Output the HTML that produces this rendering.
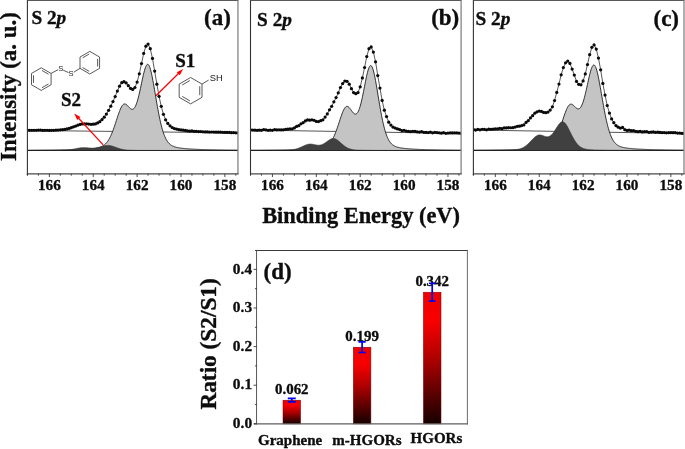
<!DOCTYPE html>
<html lang="en"><head><meta charset="utf-8"><title>S 2p XPS spectra</title>
<style>html,body{margin:0;padding:0;background:#fff}body{width:685px;height:449px;overflow:hidden}svg{display:block}text{font-family:'Liberation Serif', serif;fill:#0d0d0d;stroke:#0d0d0d;stroke-width:0.35px;stroke-linejoin:round}</style>
</head><body>
<svg width="685" height="449" viewBox="0 0 685 449">
<rect width="685" height="449" fill="#fff"/>
<g>
<clipPath id="ca"><rect x="27.41" y="0.4" width="210.55" height="173.5"/></clipPath>
<g clip-path="url(#ca)">
<line x1="27.41" y1="130.4" x2="237.96" y2="132.9" stroke="#2a2a2a" stroke-width="0.8"/>
<polygon points="27.41,150.5 27.41,150.21 27.91,150.21 28.41,150.21 28.91,150.2 29.41,150.2 29.91,150.2 30.41,150.19 30.91,150.19 31.41,150.19 31.91,150.19 32.41,150.18 32.91,150.18 33.41,150.18 33.91,150.17 34.41,150.17 34.91,150.17 35.41,150.16 35.91,150.16 36.41,150.16 36.91,150.15 37.41,150.15 37.91,150.15 38.41,150.14 38.91,150.14 39.41,150.13 39.91,150.13 40.41,150.13 40.91,150.12 41.41,150.12 41.91,150.12 42.41,150.11 42.91,150.11 43.41,150.1 43.91,150.1 44.41,150.09 44.91,150.09 45.41,150.09 45.91,150.08 46.41,150.08 46.91,150.07 47.41,150.07 47.91,150.06 48.41,150.06 48.91,150.05 49.41,150.05 49.91,150.04 50.41,150.04 50.91,150.03 51.41,150.02 51.91,150.02 52.41,150.01 52.91,150.01 53.41,150 53.91,149.99 54.41,149.99 54.91,149.98 55.41,149.98 55.91,149.97 56.41,149.96 56.91,149.96 57.41,149.95 57.91,149.94 58.41,149.93 58.91,149.93 59.41,149.92 59.91,149.91 60.41,149.9 60.91,149.9 61.41,149.89 61.91,149.88 62.41,149.87 62.91,149.86 63.41,149.85 63.91,149.84 64.41,149.83 64.91,149.83 65.41,149.82 65.91,149.81 66.41,149.8 66.91,149.79 67.41,149.77 67.91,149.76 68.41,149.75 68.91,149.74 69.41,149.73 69.91,149.72 70.41,149.71 70.91,149.69 71.41,149.68 71.91,149.67 72.41,149.65 72.91,149.64 73.41,149.63 73.91,149.61 74.41,149.6 74.91,149.58 75.41,149.57 75.91,149.55 76.41,149.53 76.91,149.52 77.41,149.5 77.91,149.48 78.41,149.46 78.91,149.45 79.41,149.43 79.91,149.41 80.41,149.39 80.91,149.36 81.41,149.34 81.91,149.32 82.41,149.3 82.91,149.27 83.41,149.25 83.91,149.22 84.41,149.2 84.91,149.17 85.41,149.14 85.91,149.12 86.41,149.09 86.91,149.06 87.41,149.02 87.91,148.99 88.41,148.96 88.91,148.92 89.41,148.88 89.91,148.85 90.41,148.81 90.91,148.76 91.41,148.72 91.91,148.67 92.41,148.62 92.91,148.57 93.41,148.52 93.91,148.46 94.41,148.4 94.91,148.33 95.41,148.26 95.91,148.18 96.41,148.1 96.91,148.01 97.41,147.91 97.91,147.8 98.41,147.69 98.91,147.56 99.41,147.41 99.91,147.26 100.41,147.09 100.91,146.9 101.41,146.69 101.91,146.45 102.41,146.2 102.91,145.91 103.41,145.6 103.91,145.25 104.41,144.87 104.91,144.45 105.41,143.99 105.91,143.49 106.41,142.94 106.91,142.34 107.41,141.68 107.91,140.98 108.41,140.21 108.91,139.39 109.41,138.51 109.91,137.56 110.41,136.56 110.91,135.49 111.41,134.36 111.91,133.18 112.41,131.93 112.91,130.63 113.41,129.28 113.91,127.88 114.41,126.44 114.91,124.96 115.41,123.46 115.91,121.93 116.41,120.4 116.91,118.86 117.41,117.33 117.91,115.83 118.41,114.36 118.91,112.93 119.41,111.56 119.91,110.27 120.41,109.07 120.91,107.97 121.41,106.98 121.91,106.12 122.41,105.4 122.91,104.81 123.41,104.38 123.91,104.09 124.41,103.95 124.91,103.94 125.41,104.06 125.91,104.3 126.41,104.63 126.91,105.05 127.41,105.53 127.91,106.05 128.41,106.59 128.91,107.14 129.41,107.66 129.91,108.14 130.41,108.56 130.91,108.91 131.41,109.16 131.91,109.3 132.41,109.32 132.91,109.2 133.41,108.93 133.91,108.51 134.41,107.93 134.91,107.17 135.41,106.25 135.91,105.15 136.41,103.88 136.91,102.45 137.41,100.85 137.91,99.11 138.41,97.22 138.91,95.2 139.41,93.08 139.91,90.86 140.41,88.56 140.91,86.22 141.41,83.85 141.91,81.48 142.41,79.14 142.91,76.87 143.41,74.68 143.91,72.62 144.41,70.72 144.91,69.01 145.41,67.52 145.91,66.29 146.41,65.33 146.91,64.68 147.41,64.35 147.91,64.35 148.41,64.69 148.91,65.36 149.41,66.35 149.91,67.65 150.41,69.24 150.91,71.1 151.41,73.19 151.91,75.49 152.41,77.97 152.91,80.61 153.41,83.36 153.91,86.2 154.41,89.11 154.91,92.06 155.41,95.03 155.91,97.99 156.41,100.92 156.91,103.82 157.41,106.65 157.91,109.41 158.41,112.09 158.91,114.67 159.41,117.15 159.91,119.52 160.41,121.77 160.91,123.91 161.41,125.92 161.91,127.82 162.41,129.59 162.91,131.25 163.41,132.79 163.91,134.21 164.41,135.52 164.91,136.73 165.41,137.84 165.91,138.85 166.41,139.78 166.91,140.62 167.41,141.38 167.91,142.07 168.41,142.7 168.91,143.26 169.41,143.77 169.91,144.23 170.41,144.64 170.91,145.01 171.41,145.34 171.91,145.64 172.41,145.91 172.91,146.15 173.41,146.37 173.91,146.57 174.41,146.75 174.91,146.92 175.41,147.07 175.91,147.2 176.41,147.33 176.91,147.44 177.41,147.55 177.91,147.65 178.41,147.74 178.91,147.83 179.41,147.91 179.91,147.99 180.41,148.06 180.91,148.13 181.41,148.19 181.91,148.25 182.41,148.31 182.91,148.37 183.41,148.42 183.91,148.47 184.41,148.52 184.91,148.57 185.41,148.61 185.91,148.66 186.41,148.7 186.91,148.74 187.41,148.78 187.91,148.82 188.41,148.86 188.91,148.89 189.41,148.93 189.91,148.96 190.41,148.99 190.91,149.02 191.41,149.05 191.91,149.08 192.41,149.11 192.91,149.14 193.41,149.17 193.91,149.19 194.41,149.22 194.91,149.24 195.41,149.26 195.91,149.29 196.41,149.31 196.91,149.33 197.41,149.35 197.91,149.37 198.41,149.39 198.91,149.41 199.41,149.43 199.91,149.45 200.41,149.47 200.91,149.49 201.41,149.5 201.91,149.52 202.41,149.54 202.91,149.55 203.41,149.57 203.91,149.58 204.41,149.6 204.91,149.61 205.41,149.63 205.91,149.64 206.41,149.65 206.91,149.67 207.41,149.68 207.91,149.69 208.41,149.7 208.91,149.72 209.41,149.73 209.91,149.74 210.41,149.75 210.91,149.76 211.41,149.77 211.91,149.78 212.41,149.79 212.91,149.8 213.41,149.81 213.91,149.82 214.41,149.83 214.91,149.84 215.41,149.85 215.91,149.86 216.41,149.87 216.91,149.88 217.41,149.88 217.91,149.89 218.41,149.9 218.91,149.91 219.41,149.92 219.91,149.92 220.41,149.93 220.91,149.94 221.41,149.95 221.91,149.95 222.41,149.96 222.91,149.97 223.41,149.97 223.91,149.98 224.41,149.99 224.91,149.99 225.41,150 225.91,150 226.41,150.01 226.91,150.01 227.41,150.02 227.91,150.03 228.41,150.03 228.91,150.04 229.41,150.04 229.91,150.05 230.41,150.05 230.91,150.06 231.41,150.06 231.91,150.07 232.41,150.07 232.91,150.08 233.41,150.08 233.91,150.09 234.41,150.09 234.91,150.1 235.41,150.1 235.91,150.1 236.41,150.11 236.91,150.11 237.41,150.12 237.91,150.12 238.41,150.12 238.41,150.5" fill="#c4c4c4" stroke="none"/>
<polyline points="27.41,150.21 27.91,150.21 28.41,150.21 28.91,150.2 29.41,150.2 29.91,150.2 30.41,150.19 30.91,150.19 31.41,150.19 31.91,150.19 32.41,150.18 32.91,150.18 33.41,150.18 33.91,150.17 34.41,150.17 34.91,150.17 35.41,150.16 35.91,150.16 36.41,150.16 36.91,150.15 37.41,150.15 37.91,150.15 38.41,150.14 38.91,150.14 39.41,150.13 39.91,150.13 40.41,150.13 40.91,150.12 41.41,150.12 41.91,150.12 42.41,150.11 42.91,150.11 43.41,150.1 43.91,150.1 44.41,150.09 44.91,150.09 45.41,150.09 45.91,150.08 46.41,150.08 46.91,150.07 47.41,150.07 47.91,150.06 48.41,150.06 48.91,150.05 49.41,150.05 49.91,150.04 50.41,150.04 50.91,150.03 51.41,150.02 51.91,150.02 52.41,150.01 52.91,150.01 53.41,150 53.91,149.99 54.41,149.99 54.91,149.98 55.41,149.98 55.91,149.97 56.41,149.96 56.91,149.96 57.41,149.95 57.91,149.94 58.41,149.93 58.91,149.93 59.41,149.92 59.91,149.91 60.41,149.9 60.91,149.9 61.41,149.89 61.91,149.88 62.41,149.87 62.91,149.86 63.41,149.85 63.91,149.84 64.41,149.83 64.91,149.83 65.41,149.82 65.91,149.81 66.41,149.8 66.91,149.79 67.41,149.77 67.91,149.76 68.41,149.75 68.91,149.74 69.41,149.73 69.91,149.72 70.41,149.71 70.91,149.69 71.41,149.68 71.91,149.67 72.41,149.65 72.91,149.64 73.41,149.63 73.91,149.61 74.41,149.6 74.91,149.58 75.41,149.57 75.91,149.55 76.41,149.53 76.91,149.52 77.41,149.5 77.91,149.48 78.41,149.46 78.91,149.45 79.41,149.43 79.91,149.41 80.41,149.39 80.91,149.36 81.41,149.34 81.91,149.32 82.41,149.3 82.91,149.27 83.41,149.25 83.91,149.22 84.41,149.2 84.91,149.17 85.41,149.14 85.91,149.12 86.41,149.09 86.91,149.06 87.41,149.02 87.91,148.99 88.41,148.96 88.91,148.92 89.41,148.88 89.91,148.85 90.41,148.81 90.91,148.76 91.41,148.72 91.91,148.67 92.41,148.62 92.91,148.57 93.41,148.52 93.91,148.46 94.41,148.4 94.91,148.33 95.41,148.26 95.91,148.18 96.41,148.1 96.91,148.01 97.41,147.91 97.91,147.8 98.41,147.69 98.91,147.56 99.41,147.41 99.91,147.26 100.41,147.09 100.91,146.9 101.41,146.69 101.91,146.45 102.41,146.2 102.91,145.91 103.41,145.6 103.91,145.25 104.41,144.87 104.91,144.45 105.41,143.99 105.91,143.49 106.41,142.94 106.91,142.34 107.41,141.68 107.91,140.98 108.41,140.21 108.91,139.39 109.41,138.51 109.91,137.56 110.41,136.56 110.91,135.49 111.41,134.36 111.91,133.18 112.41,131.93 112.91,130.63 113.41,129.28 113.91,127.88 114.41,126.44 114.91,124.96 115.41,123.46 115.91,121.93 116.41,120.4 116.91,118.86 117.41,117.33 117.91,115.83 118.41,114.36 118.91,112.93 119.41,111.56 119.91,110.27 120.41,109.07 120.91,107.97 121.41,106.98 121.91,106.12 122.41,105.4 122.91,104.81 123.41,104.38 123.91,104.09 124.41,103.95 124.91,103.94 125.41,104.06 125.91,104.3 126.41,104.63 126.91,105.05 127.41,105.53 127.91,106.05 128.41,106.59 128.91,107.14 129.41,107.66 129.91,108.14 130.41,108.56 130.91,108.91 131.41,109.16 131.91,109.3 132.41,109.32 132.91,109.2 133.41,108.93 133.91,108.51 134.41,107.93 134.91,107.17 135.41,106.25 135.91,105.15 136.41,103.88 136.91,102.45 137.41,100.85 137.91,99.11 138.41,97.22 138.91,95.2 139.41,93.08 139.91,90.86 140.41,88.56 140.91,86.22 141.41,83.85 141.91,81.48 142.41,79.14 142.91,76.87 143.41,74.68 143.91,72.62 144.41,70.72 144.91,69.01 145.41,67.52 145.91,66.29 146.41,65.33 146.91,64.68 147.41,64.35 147.91,64.35 148.41,64.69 148.91,65.36 149.41,66.35 149.91,67.65 150.41,69.24 150.91,71.1 151.41,73.19 151.91,75.49 152.41,77.97 152.91,80.61 153.41,83.36 153.91,86.2 154.41,89.11 154.91,92.06 155.41,95.03 155.91,97.99 156.41,100.92 156.91,103.82 157.41,106.65 157.91,109.41 158.41,112.09 158.91,114.67 159.41,117.15 159.91,119.52 160.41,121.77 160.91,123.91 161.41,125.92 161.91,127.82 162.41,129.59 162.91,131.25 163.41,132.79 163.91,134.21 164.41,135.52 164.91,136.73 165.41,137.84 165.91,138.85 166.41,139.78 166.91,140.62 167.41,141.38 167.91,142.07 168.41,142.7 168.91,143.26 169.41,143.77 169.91,144.23 170.41,144.64 170.91,145.01 171.41,145.34 171.91,145.64 172.41,145.91 172.91,146.15 173.41,146.37 173.91,146.57 174.41,146.75 174.91,146.92 175.41,147.07 175.91,147.2 176.41,147.33 176.91,147.44 177.41,147.55 177.91,147.65 178.41,147.74 178.91,147.83 179.41,147.91 179.91,147.99 180.41,148.06 180.91,148.13 181.41,148.19 181.91,148.25 182.41,148.31 182.91,148.37 183.41,148.42 183.91,148.47 184.41,148.52 184.91,148.57 185.41,148.61 185.91,148.66 186.41,148.7 186.91,148.74 187.41,148.78 187.91,148.82 188.41,148.86 188.91,148.89 189.41,148.93 189.91,148.96 190.41,148.99 190.91,149.02 191.41,149.05 191.91,149.08 192.41,149.11 192.91,149.14 193.41,149.17 193.91,149.19 194.41,149.22 194.91,149.24 195.41,149.26 195.91,149.29 196.41,149.31 196.91,149.33 197.41,149.35 197.91,149.37 198.41,149.39 198.91,149.41 199.41,149.43 199.91,149.45 200.41,149.47 200.91,149.49 201.41,149.5 201.91,149.52 202.41,149.54 202.91,149.55 203.41,149.57 203.91,149.58 204.41,149.6 204.91,149.61 205.41,149.63 205.91,149.64 206.41,149.65 206.91,149.67 207.41,149.68 207.91,149.69 208.41,149.7 208.91,149.72 209.41,149.73 209.91,149.74 210.41,149.75 210.91,149.76 211.41,149.77 211.91,149.78 212.41,149.79 212.91,149.8 213.41,149.81 213.91,149.82 214.41,149.83 214.91,149.84 215.41,149.85 215.91,149.86 216.41,149.87 216.91,149.88 217.41,149.88 217.91,149.89 218.41,149.9 218.91,149.91 219.41,149.92 219.91,149.92 220.41,149.93 220.91,149.94 221.41,149.95 221.91,149.95 222.41,149.96 222.91,149.97 223.41,149.97 223.91,149.98 224.41,149.99 224.91,149.99 225.41,150 225.91,150 226.41,150.01 226.91,150.01 227.41,150.02 227.91,150.03 228.41,150.03 228.91,150.04 229.41,150.04 229.91,150.05 230.41,150.05 230.91,150.06 231.41,150.06 231.91,150.07 232.41,150.07 232.91,150.08 233.41,150.08 233.91,150.09 234.41,150.09 234.91,150.1 235.41,150.1 235.91,150.1 236.41,150.11 236.91,150.11 237.41,150.12 237.91,150.12 238.41,150.12" fill="none" stroke="#1c1c1c" stroke-width="0.9"/>
<polygon points="27.41,150.5 27.41,150.47 27.91,150.47 28.41,150.47 28.91,150.47 29.41,150.47 29.91,150.47 30.41,150.47 30.91,150.47 31.41,150.47 31.91,150.47 32.41,150.47 32.91,150.47 33.41,150.47 33.91,150.46 34.41,150.46 34.91,150.46 35.41,150.46 35.91,150.46 36.41,150.46 36.91,150.46 37.41,150.46 37.91,150.46 38.41,150.46 38.91,150.46 39.41,150.46 39.91,150.46 40.41,150.46 40.91,150.45 41.41,150.45 41.91,150.45 42.41,150.45 42.91,150.45 43.41,150.45 43.91,150.45 44.41,150.45 44.91,150.45 45.41,150.45 45.91,150.44 46.41,150.44 46.91,150.44 47.41,150.44 47.91,150.44 48.41,150.44 48.91,150.44 49.41,150.43 49.91,150.43 50.41,150.43 50.91,150.43 51.41,150.43 51.91,150.43 52.41,150.42 52.91,150.42 53.41,150.42 53.91,150.42 54.41,150.41 54.91,150.41 55.41,150.41 55.91,150.4 56.41,150.4 56.91,150.39 57.41,150.39 57.91,150.38 58.41,150.38 58.91,150.37 59.41,150.36 59.91,150.35 60.41,150.34 60.91,150.33 61.41,150.32 61.91,150.31 62.41,150.29 62.91,150.27 63.41,150.25 63.91,150.23 64.41,150.21 64.91,150.18 65.41,150.15 65.91,150.12 66.41,150.08 66.91,150.04 67.41,150 67.91,149.95 68.41,149.9 68.91,149.84 69.41,149.78 69.91,149.72 70.41,149.65 70.91,149.58 71.41,149.5 71.91,149.42 72.41,149.34 72.91,149.25 73.41,149.16 73.91,149.06 74.41,148.97 74.91,148.87 75.41,148.77 75.91,148.67 76.41,148.57 76.91,148.47 77.41,148.37 77.91,148.28 78.41,148.18 78.91,148.1 79.41,148.01 79.91,147.94 80.41,147.87 80.91,147.81 81.41,147.75 81.91,147.71 82.41,147.67 82.91,147.65 83.41,147.63 83.91,147.62 84.41,147.63 84.91,147.64 85.41,147.66 85.91,147.69 86.41,147.72 86.91,147.76 87.41,147.8 87.91,147.85 88.41,147.89 88.91,147.94 89.41,147.99 89.91,148.03 90.41,148.07 90.91,148.1 91.41,148.13 91.91,148.15 92.41,148.16 92.91,148.16 93.41,148.15 93.91,148.13 94.41,148.1 94.91,148.06 95.41,148.01 95.91,147.95 96.41,147.87 96.91,147.79 97.41,147.69 97.91,147.58 98.41,147.47 98.91,147.34 99.41,147.21 99.91,147.07 100.41,146.93 100.91,146.78 101.41,146.64 101.91,146.49 102.41,146.34 102.91,146.2 103.41,146.06 103.91,145.94 104.41,145.82 104.91,145.71 105.41,145.62 105.91,145.54 106.41,145.48 106.91,145.44 107.41,145.41 107.91,145.41 108.41,145.42 108.91,145.46 109.41,145.51 109.91,145.59 110.41,145.68 110.91,145.79 111.41,145.91 111.91,146.05 112.41,146.2 112.91,146.35 113.41,146.52 113.91,146.69 114.41,146.87 114.91,147.05 115.41,147.23 115.91,147.41 116.41,147.59 116.91,147.77 117.41,147.95 117.91,148.12 118.41,148.29 118.91,148.45 119.41,148.6 119.91,148.75 120.41,148.89 120.91,149.02 121.41,149.14 121.91,149.26 122.41,149.37 122.91,149.47 123.41,149.56 123.91,149.64 124.41,149.72 124.91,149.79 125.41,149.86 125.91,149.92 126.41,149.97 126.91,150.02 127.41,150.06 127.91,150.1 128.41,150.14 128.91,150.17 129.41,150.2 129.91,150.22 130.41,150.24 130.91,150.26 131.41,150.28 131.91,150.3 132.41,150.31 132.91,150.32 133.41,150.33 133.91,150.34 134.41,150.35 134.91,150.36 135.41,150.36 135.91,150.37 136.41,150.37 136.91,150.38 137.41,150.38 137.91,150.39 138.41,150.39 138.91,150.4 139.41,150.4 139.91,150.4 140.41,150.41 140.91,150.41 141.41,150.41 141.91,150.41 142.41,150.42 142.91,150.42 143.41,150.42 143.91,150.42 144.41,150.42 144.91,150.43 145.41,150.43 145.91,150.43 146.41,150.43 146.91,150.43 147.41,150.43 147.91,150.43 148.41,150.44 148.91,150.44 149.41,150.44 149.91,150.44 150.41,150.44 150.91,150.44 151.41,150.44 151.91,150.45 152.41,150.45 152.91,150.45 153.41,150.45 153.91,150.45 154.41,150.45 154.91,150.45 155.41,150.45 155.91,150.45 156.41,150.45 156.91,150.45 157.41,150.46 157.91,150.46 158.41,150.46 158.91,150.46 159.41,150.46 159.91,150.46 160.41,150.46 160.91,150.46 161.41,150.46 161.91,150.46 162.41,150.46 162.91,150.46 163.41,150.46 163.91,150.46 164.41,150.47 164.91,150.47 165.41,150.47 165.91,150.47 166.41,150.47 166.91,150.47 167.41,150.47 167.91,150.47 168.41,150.47 168.91,150.47 169.41,150.47 169.91,150.47 170.41,150.47 170.91,150.47 171.41,150.47 171.91,150.47 172.41,150.47 172.91,150.47 173.41,150.47 173.91,150.47 174.41,150.47 174.91,150.47 175.41,150.47 175.91,150.48 176.41,150.48 176.91,150.48 177.41,150.48 177.91,150.48 178.41,150.48 178.91,150.48 179.41,150.48 179.91,150.48 180.41,150.48 180.91,150.48 181.41,150.48 181.91,150.48 182.41,150.48 182.91,150.48 183.41,150.48 183.91,150.48 184.41,150.48 184.91,150.48 185.41,150.48 185.91,150.48 186.41,150.48 186.91,150.48 187.41,150.48 187.91,150.48 188.41,150.48 188.91,150.48 189.41,150.48 189.91,150.48 190.41,150.48 190.91,150.48 191.41,150.48 191.91,150.48 192.41,150.48 192.91,150.48 193.41,150.48 193.91,150.48 194.41,150.48 194.91,150.48 195.41,150.48 195.91,150.48 196.41,150.48 196.91,150.48 197.41,150.49 197.91,150.49 198.41,150.49 198.91,150.49 199.41,150.49 199.91,150.49 200.41,150.49 200.91,150.49 201.41,150.49 201.91,150.49 202.41,150.49 202.91,150.49 203.41,150.49 203.91,150.49 204.41,150.49 204.91,150.49 205.41,150.49 205.91,150.49 206.41,150.49 206.91,150.49 207.41,150.49 207.91,150.49 208.41,150.49 208.91,150.49 209.41,150.49 209.91,150.49 210.41,150.49 210.91,150.49 211.41,150.49 211.91,150.49 212.41,150.49 212.91,150.49 213.41,150.49 213.91,150.49 214.41,150.49 214.91,150.49 215.41,150.49 215.91,150.49 216.41,150.49 216.91,150.49 217.41,150.49 217.91,150.49 218.41,150.49 218.91,150.49 219.41,150.49 219.91,150.49 220.41,150.49 220.91,150.49 221.41,150.49 221.91,150.49 222.41,150.49 222.91,150.49 223.41,150.49 223.91,150.49 224.41,150.49 224.91,150.49 225.41,150.49 225.91,150.49 226.41,150.49 226.91,150.49 227.41,150.49 227.91,150.49 228.41,150.49 228.91,150.49 229.41,150.49 229.91,150.49 230.41,150.49 230.91,150.49 231.41,150.49 231.91,150.49 232.41,150.49 232.91,150.49 233.41,150.49 233.91,150.49 234.41,150.49 234.91,150.49 235.41,150.49 235.91,150.49 236.41,150.49 236.91,150.49 237.41,150.49 237.91,150.49 238.41,150.49 238.41,150.5" fill="#404040" stroke="none"/>
<polyline points="27.41,150.47 27.91,150.47 28.41,150.47 28.91,150.47 29.41,150.47 29.91,150.47 30.41,150.47 30.91,150.47 31.41,150.47 31.91,150.47 32.41,150.47 32.91,150.47 33.41,150.47 33.91,150.46 34.41,150.46 34.91,150.46 35.41,150.46 35.91,150.46 36.41,150.46 36.91,150.46 37.41,150.46 37.91,150.46 38.41,150.46 38.91,150.46 39.41,150.46 39.91,150.46 40.41,150.46 40.91,150.45 41.41,150.45 41.91,150.45 42.41,150.45 42.91,150.45 43.41,150.45 43.91,150.45 44.41,150.45 44.91,150.45 45.41,150.45 45.91,150.44 46.41,150.44 46.91,150.44 47.41,150.44 47.91,150.44 48.41,150.44 48.91,150.44 49.41,150.43 49.91,150.43 50.41,150.43 50.91,150.43 51.41,150.43 51.91,150.43 52.41,150.42 52.91,150.42 53.41,150.42 53.91,150.42 54.41,150.41 54.91,150.41 55.41,150.41 55.91,150.4 56.41,150.4 56.91,150.39 57.41,150.39 57.91,150.38 58.41,150.38 58.91,150.37 59.41,150.36 59.91,150.35 60.41,150.34 60.91,150.33 61.41,150.32 61.91,150.31 62.41,150.29 62.91,150.27 63.41,150.25 63.91,150.23 64.41,150.21 64.91,150.18 65.41,150.15 65.91,150.12 66.41,150.08 66.91,150.04 67.41,150 67.91,149.95 68.41,149.9 68.91,149.84 69.41,149.78 69.91,149.72 70.41,149.65 70.91,149.58 71.41,149.5 71.91,149.42 72.41,149.34 72.91,149.25 73.41,149.16 73.91,149.06 74.41,148.97 74.91,148.87 75.41,148.77 75.91,148.67 76.41,148.57 76.91,148.47 77.41,148.37 77.91,148.28 78.41,148.18 78.91,148.1 79.41,148.01 79.91,147.94 80.41,147.87 80.91,147.81 81.41,147.75 81.91,147.71 82.41,147.67 82.91,147.65 83.41,147.63 83.91,147.62 84.41,147.63 84.91,147.64 85.41,147.66 85.91,147.69 86.41,147.72 86.91,147.76 87.41,147.8 87.91,147.85 88.41,147.89 88.91,147.94 89.41,147.99 89.91,148.03 90.41,148.07 90.91,148.1 91.41,148.13 91.91,148.15 92.41,148.16 92.91,148.16 93.41,148.15 93.91,148.13 94.41,148.1 94.91,148.06 95.41,148.01 95.91,147.95 96.41,147.87 96.91,147.79 97.41,147.69 97.91,147.58 98.41,147.47 98.91,147.34 99.41,147.21 99.91,147.07 100.41,146.93 100.91,146.78 101.41,146.64 101.91,146.49 102.41,146.34 102.91,146.2 103.41,146.06 103.91,145.94 104.41,145.82 104.91,145.71 105.41,145.62 105.91,145.54 106.41,145.48 106.91,145.44 107.41,145.41 107.91,145.41 108.41,145.42 108.91,145.46 109.41,145.51 109.91,145.59 110.41,145.68 110.91,145.79 111.41,145.91 111.91,146.05 112.41,146.2 112.91,146.35 113.41,146.52 113.91,146.69 114.41,146.87 114.91,147.05 115.41,147.23 115.91,147.41 116.41,147.59 116.91,147.77 117.41,147.95 117.91,148.12 118.41,148.29 118.91,148.45 119.41,148.6 119.91,148.75 120.41,148.89 120.91,149.02 121.41,149.14 121.91,149.26 122.41,149.37 122.91,149.47 123.41,149.56 123.91,149.64 124.41,149.72 124.91,149.79 125.41,149.86 125.91,149.92 126.41,149.97 126.91,150.02 127.41,150.06 127.91,150.1 128.41,150.14 128.91,150.17 129.41,150.2 129.91,150.22 130.41,150.24 130.91,150.26 131.41,150.28 131.91,150.3 132.41,150.31 132.91,150.32 133.41,150.33 133.91,150.34 134.41,150.35 134.91,150.36 135.41,150.36 135.91,150.37 136.41,150.37 136.91,150.38 137.41,150.38 137.91,150.39 138.41,150.39 138.91,150.4 139.41,150.4 139.91,150.4 140.41,150.41 140.91,150.41 141.41,150.41 141.91,150.41 142.41,150.42 142.91,150.42 143.41,150.42 143.91,150.42 144.41,150.42 144.91,150.43 145.41,150.43 145.91,150.43 146.41,150.43 146.91,150.43 147.41,150.43 147.91,150.43 148.41,150.44 148.91,150.44 149.41,150.44 149.91,150.44 150.41,150.44 150.91,150.44 151.41,150.44 151.91,150.45 152.41,150.45 152.91,150.45 153.41,150.45 153.91,150.45 154.41,150.45 154.91,150.45 155.41,150.45 155.91,150.45 156.41,150.45 156.91,150.45 157.41,150.46 157.91,150.46 158.41,150.46 158.91,150.46 159.41,150.46 159.91,150.46 160.41,150.46 160.91,150.46 161.41,150.46 161.91,150.46 162.41,150.46 162.91,150.46 163.41,150.46 163.91,150.46 164.41,150.47 164.91,150.47 165.41,150.47 165.91,150.47 166.41,150.47 166.91,150.47 167.41,150.47 167.91,150.47 168.41,150.47 168.91,150.47 169.41,150.47 169.91,150.47 170.41,150.47 170.91,150.47 171.41,150.47 171.91,150.47 172.41,150.47 172.91,150.47 173.41,150.47 173.91,150.47 174.41,150.47 174.91,150.47 175.41,150.47 175.91,150.48 176.41,150.48 176.91,150.48 177.41,150.48 177.91,150.48 178.41,150.48 178.91,150.48 179.41,150.48 179.91,150.48 180.41,150.48 180.91,150.48 181.41,150.48 181.91,150.48 182.41,150.48 182.91,150.48 183.41,150.48 183.91,150.48 184.41,150.48 184.91,150.48 185.41,150.48 185.91,150.48 186.41,150.48 186.91,150.48 187.41,150.48 187.91,150.48 188.41,150.48 188.91,150.48 189.41,150.48 189.91,150.48 190.41,150.48 190.91,150.48 191.41,150.48 191.91,150.48 192.41,150.48 192.91,150.48 193.41,150.48 193.91,150.48 194.41,150.48 194.91,150.48 195.41,150.48 195.91,150.48 196.41,150.48 196.91,150.48 197.41,150.49 197.91,150.49 198.41,150.49 198.91,150.49 199.41,150.49 199.91,150.49 200.41,150.49 200.91,150.49 201.41,150.49 201.91,150.49 202.41,150.49 202.91,150.49 203.41,150.49 203.91,150.49 204.41,150.49 204.91,150.49 205.41,150.49 205.91,150.49 206.41,150.49 206.91,150.49 207.41,150.49 207.91,150.49 208.41,150.49 208.91,150.49 209.41,150.49 209.91,150.49 210.41,150.49 210.91,150.49 211.41,150.49 211.91,150.49 212.41,150.49 212.91,150.49 213.41,150.49 213.91,150.49 214.41,150.49 214.91,150.49 215.41,150.49 215.91,150.49 216.41,150.49 216.91,150.49 217.41,150.49 217.91,150.49 218.41,150.49 218.91,150.49 219.41,150.49 219.91,150.49 220.41,150.49 220.91,150.49 221.41,150.49 221.91,150.49 222.41,150.49 222.91,150.49 223.41,150.49 223.91,150.49 224.41,150.49 224.91,150.49 225.41,150.49 225.91,150.49 226.41,150.49 226.91,150.49 227.41,150.49 227.91,150.49 228.41,150.49 228.91,150.49 229.41,150.49 229.91,150.49 230.41,150.49 230.91,150.49 231.41,150.49 231.91,150.49 232.41,150.49 232.91,150.49 233.41,150.49 233.91,150.49 234.41,150.49 234.91,150.49 235.41,150.49 235.91,150.49 236.41,150.49 236.91,150.49 237.41,150.49 237.91,150.49 238.41,150.49" fill="none" stroke="#333" stroke-width="0.6"/>
<line x1="27.41" y1="150.5" x2="237.96" y2="150.5" stroke="#1a1a1a" stroke-width="0.9"/>
<polyline points="27.41,130.21 29.6,130.3 31.8,130.27 33.99,130.33 36.19,130.35 38.38,130.22 40.57,130.21 42.77,130.41 44.96,130.27 47.16,130.26 49.35,130.43 51.54,130.28 53.74,130.32 55.93,130.17 58.13,130.1 60.32,129.83 62.51,129.72 64.71,129.46 66.9,128.95 69.1,128.44 71.29,127.73 73.48,126.79 75.68,126.1 77.87,125.23 80.07,124.45 82.26,123.89 84.45,123.88 86.65,123.83 88.84,124.08 91.04,124.29 93.23,124.24 95.42,123.93 97.62,122.96 99.81,121.66 102.01,119.59 104.2,117.16 106.39,114.07 108.59,110.3 110.78,106.19 112.98,101.52 115.17,96.51 117.36,91.03 119.56,86.21 121.75,82.7 123.95,81.64 126.14,82.95 128.33,85.74 130.53,88.46 132.72,89.38 134.92,87.5 137.11,82.12 139.3,73.8 141.5,63.53 143.69,53.47 145.89,46.13 148.08,44.09 150.27,48.73 152.47,58.47 154.66,71.06 156.86,84.17 159.05,96.34 161.24,106.34 163.44,114.27 165.63,119.78 167.83,123.48 170.02,125.86 172.21,127.59 174.41,128.61 176.6,129.06 178.8,129.7 180.99,129.97 183.18,130.2 185.38,130.48 187.57,130.81 189.77,131.02 191.96,130.98 194.15,131.27 196.35,131.26 198.54,131.55 200.74,131.56 202.93,131.8 205.12,131.91 207.32,131.89 209.51,132.09 211.71,132 213.9,132.01 216.09,132.2 218.29,132.13 220.48,132.23 222.68,132.34 224.87,132.44 227.06,132.39 229.26,132.41 231.45,132.66 233.65,132.57 235.84,132.77 238.03,132.8" fill="none" stroke="#111" stroke-width="0.7"/>
<g fill="#0a0a0a"><circle cx="27.41" cy="130.21" r="1.62"/><circle cx="29.6" cy="130.3" r="1.62"/><circle cx="31.8" cy="130.27" r="1.62"/><circle cx="33.99" cy="130.33" r="1.62"/><circle cx="36.19" cy="130.35" r="1.62"/><circle cx="38.38" cy="130.22" r="1.62"/><circle cx="40.57" cy="130.21" r="1.62"/><circle cx="42.77" cy="130.41" r="1.62"/><circle cx="44.96" cy="130.27" r="1.62"/><circle cx="47.16" cy="130.26" r="1.62"/><circle cx="49.35" cy="130.43" r="1.62"/><circle cx="51.54" cy="130.28" r="1.62"/><circle cx="53.74" cy="130.32" r="1.62"/><circle cx="55.93" cy="130.17" r="1.62"/><circle cx="58.13" cy="130.1" r="1.62"/><circle cx="60.32" cy="129.83" r="1.62"/><circle cx="62.51" cy="129.72" r="1.62"/><circle cx="64.71" cy="129.46" r="1.62"/><circle cx="66.9" cy="128.95" r="1.62"/><circle cx="69.1" cy="128.44" r="1.62"/><circle cx="71.29" cy="127.73" r="1.62"/><circle cx="73.48" cy="126.79" r="1.62"/><circle cx="75.68" cy="126.1" r="1.62"/><circle cx="77.87" cy="125.23" r="1.62"/><circle cx="80.07" cy="124.45" r="1.62"/><circle cx="82.26" cy="123.89" r="1.62"/><circle cx="84.45" cy="123.88" r="1.62"/><circle cx="86.65" cy="123.83" r="1.62"/><circle cx="88.84" cy="124.08" r="1.62"/><circle cx="91.04" cy="124.29" r="1.62"/><circle cx="93.23" cy="124.24" r="1.62"/><circle cx="95.42" cy="123.93" r="1.62"/><circle cx="97.62" cy="122.96" r="1.62"/><circle cx="99.81" cy="121.66" r="1.62"/><circle cx="102.01" cy="119.59" r="1.62"/><circle cx="104.2" cy="117.16" r="1.62"/><circle cx="106.39" cy="114.07" r="1.62"/><circle cx="108.59" cy="110.3" r="1.62"/><circle cx="110.78" cy="106.19" r="1.62"/><circle cx="112.98" cy="101.52" r="1.62"/><circle cx="115.17" cy="96.51" r="1.62"/><circle cx="117.36" cy="91.03" r="1.62"/><circle cx="119.56" cy="86.21" r="1.62"/><circle cx="121.75" cy="82.7" r="1.62"/><circle cx="123.95" cy="81.64" r="1.62"/><circle cx="126.14" cy="82.95" r="1.62"/><circle cx="128.33" cy="85.74" r="1.62"/><circle cx="130.53" cy="88.46" r="1.62"/><circle cx="132.72" cy="89.38" r="1.62"/><circle cx="134.92" cy="87.5" r="1.62"/><circle cx="137.11" cy="82.12" r="1.62"/><circle cx="139.3" cy="73.8" r="1.62"/><circle cx="141.5" cy="63.53" r="1.62"/><circle cx="143.69" cy="53.47" r="1.62"/><circle cx="145.89" cy="46.13" r="1.62"/><circle cx="148.08" cy="44.09" r="1.62"/><circle cx="150.27" cy="48.73" r="1.62"/><circle cx="152.47" cy="58.47" r="1.62"/><circle cx="154.66" cy="71.06" r="1.62"/><circle cx="156.86" cy="84.17" r="1.62"/><circle cx="159.05" cy="96.34" r="1.62"/><circle cx="161.24" cy="106.34" r="1.62"/><circle cx="163.44" cy="114.27" r="1.62"/><circle cx="165.63" cy="119.78" r="1.62"/><circle cx="167.83" cy="123.48" r="1.62"/><circle cx="170.02" cy="125.86" r="1.62"/><circle cx="172.21" cy="127.59" r="1.62"/><circle cx="174.41" cy="128.61" r="1.62"/><circle cx="176.6" cy="129.06" r="1.62"/><circle cx="178.8" cy="129.7" r="1.62"/><circle cx="180.99" cy="129.97" r="1.62"/><circle cx="183.18" cy="130.2" r="1.62"/><circle cx="185.38" cy="130.48" r="1.62"/><circle cx="187.57" cy="130.81" r="1.62"/><circle cx="189.77" cy="131.02" r="1.62"/><circle cx="191.96" cy="130.98" r="1.62"/><circle cx="194.15" cy="131.27" r="1.62"/><circle cx="196.35" cy="131.26" r="1.62"/><circle cx="198.54" cy="131.55" r="1.62"/><circle cx="200.74" cy="131.56" r="1.62"/><circle cx="202.93" cy="131.8" r="1.62"/><circle cx="205.12" cy="131.91" r="1.62"/><circle cx="207.32" cy="131.89" r="1.62"/><circle cx="209.51" cy="132.09" r="1.62"/><circle cx="211.71" cy="132" r="1.62"/><circle cx="213.9" cy="132.01" r="1.62"/><circle cx="216.09" cy="132.2" r="1.62"/><circle cx="218.29" cy="132.13" r="1.62"/><circle cx="220.48" cy="132.23" r="1.62"/><circle cx="222.68" cy="132.34" r="1.62"/><circle cx="224.87" cy="132.44" r="1.62"/><circle cx="227.06" cy="132.39" r="1.62"/><circle cx="229.26" cy="132.41" r="1.62"/><circle cx="231.45" cy="132.66" r="1.62"/><circle cx="233.65" cy="132.57" r="1.62"/><circle cx="235.84" cy="132.77" r="1.62"/><circle cx="238.03" cy="132.8" r="1.62"/></g>
</g>
<line x1="26.91" y1="0.4" x2="238.46" y2="0.4" stroke="#464646" stroke-width="1"/>
<line x1="237.96" y1="0.4" x2="237.96" y2="173.9" stroke="#858585" stroke-width="1.3"/>
<line x1="27.41" y1="0.4" x2="27.41" y2="175.2" stroke="#333" stroke-width="1.1"/>
<line x1="26.91" y1="173.9" x2="238.56" y2="173.9" stroke="#484848" stroke-width="1.25"/>
<path d="M27.41 173.9v1.8M38.38 173.9v1.8M49.35 173.9v3.2M60.32 173.9v1.8M71.29 173.9v1.8M82.26 173.9v1.8M93.23 173.9v3.2M104.2 173.9v1.8M115.17 173.9v1.8M126.14 173.9v1.8M137.11 173.9v3.2M148.08 173.9v1.8M159.05 173.9v1.8M170.02 173.9v1.8M180.99 173.9v3.2M191.96 173.9v1.8M202.93 173.9v1.8M213.9 173.9v1.8M224.87 173.9v3.2M235.84 173.9v1.8" stroke="#222" stroke-width="0.8" fill="none"/>
<text x="49.35" y="190.3" text-anchor="middle" font-size="15.2" font-weight="bold">166</text>
<text x="93.23" y="190.3" text-anchor="middle" font-size="15.2" font-weight="bold">164</text>
<text x="137.11" y="190.3" text-anchor="middle" font-size="15.2" font-weight="bold">162</text>
<text x="180.99" y="190.3" text-anchor="middle" font-size="15.2" font-weight="bold">160</text>
<text x="224.87" y="190.3" text-anchor="middle" font-size="15.2" font-weight="bold">158</text>
<text x="31.4" y="24.2" font-size="19.3" font-weight="bold">S 2<tspan font-style="italic">p</tspan></text>
<text x="230.8" y="25.4" font-size="23" font-weight="bold" text-anchor="end">(a)</text>
</g>
<g>
<clipPath id="cb"><rect x="250.5" y="0.4" width="210.6" height="173.5"/></clipPath>
<g clip-path="url(#cb)">
<line x1="250.5" y1="130" x2="461.1" y2="133.5" stroke="#2a2a2a" stroke-width="0.8"/>
<polygon points="250.5,150.5 250.5,150.24 251,150.24 251.5,150.23 252,150.23 252.5,150.23 253,150.23 253.5,150.22 254,150.22 254.5,150.22 255,150.21 255.5,150.21 256,150.21 256.5,150.21 257,150.2 257.5,150.2 258,150.2 258.5,150.19 259,150.19 259.5,150.19 260,150.19 260.5,150.18 261,150.18 261.5,150.18 262,150.17 262.5,150.17 263,150.17 263.5,150.16 264,150.16 264.5,150.15 265,150.15 265.5,150.15 266,150.14 266.5,150.14 267,150.14 267.5,150.13 268,150.13 268.5,150.12 269,150.12 269.5,150.11 270,150.11 270.5,150.11 271,150.1 271.5,150.1 272,150.09 272.5,150.09 273,150.08 273.5,150.08 274,150.07 274.5,150.07 275,150.06 275.5,150.06 276,150.05 276.5,150.05 277,150.04 277.5,150.04 278,150.03 278.5,150.02 279,150.02 279.5,150.01 280,150.01 280.5,150 281,149.99 281.5,149.99 282,149.98 282.5,149.97 283,149.97 283.5,149.96 284,149.95 284.5,149.94 285,149.94 285.5,149.93 286,149.92 286.5,149.91 287,149.9 287.5,149.9 288,149.89 288.5,149.88 289,149.87 289.5,149.86 290,149.85 290.5,149.84 291,149.83 291.5,149.82 292,149.81 292.5,149.8 293,149.79 293.5,149.78 294,149.77 294.5,149.75 295,149.74 295.5,149.73 296,149.72 296.5,149.7 297,149.69 297.5,149.68 298,149.66 298.5,149.65 299,149.64 299.5,149.62 300,149.6 300.5,149.59 301,149.57 301.5,149.56 302,149.54 302.5,149.52 303,149.5 303.5,149.48 304,149.46 304.5,149.44 305,149.42 305.5,149.4 306,149.38 306.5,149.36 307,149.34 307.5,149.31 308,149.29 308.5,149.26 309,149.24 309.5,149.21 310,149.18 310.5,149.15 311,149.12 311.5,149.09 312,149.06 312.5,149.02 313,148.99 313.5,148.95 314,148.91 314.5,148.87 315,148.83 315.5,148.79 316,148.74 316.5,148.69 317,148.64 317.5,148.58 318,148.52 318.5,148.46 319,148.39 319.5,148.31 320,148.23 320.5,148.15 321,148.05 321.5,147.94 322,147.83 322.5,147.7 323,147.56 323.5,147.41 324,147.24 324.5,147.05 325,146.83 325.5,146.6 326,146.34 326.5,146.05 327,145.73 327.5,145.37 328,144.98 328.5,144.55 329,144.07 329.5,143.55 330,142.97 330.5,142.34 331,141.66 331.5,140.92 332,140.12 332.5,139.26 333,138.33 333.5,137.34 334,136.29 334.5,135.17 335,133.99 335.5,132.75 336,131.45 336.5,130.1 337,128.7 337.5,127.26 338,125.79 338.5,124.28 339,122.76 339.5,121.23 340,119.71 340.5,118.2 341,116.72 341.5,115.28 342,113.9 342.5,112.59 343,111.37 343.5,110.25 344,109.26 344.5,108.39 345,107.67 345.5,107.1 346,106.69 346.5,106.44 347,106.35 347.5,106.41 348,106.61 348.5,106.95 349,107.39 349.5,107.94 350,108.55 350.5,109.22 351,109.92 351.5,110.63 352,111.32 352.5,111.98 353,112.58 353.5,113.11 354,113.54 354.5,113.86 355,114.06 355.5,114.11 356,114.01 356.5,113.74 357,113.3 357.5,112.68 358,111.88 358.5,110.88 359,109.7 359.5,108.32 360,106.77 360.5,105.04 361,103.14 361.5,101.1 362,98.91 362.5,96.6 363,94.18 363.5,91.69 364,89.15 364.5,86.57 365,84 365.5,81.46 366,78.98 366.5,76.61 367,74.38 367.5,72.32 368,70.47 368.5,68.87 369,67.55 369.5,66.54 370,65.87 370.5,65.54 371,65.58 371.5,65.98 372,66.73 372.5,67.84 373,69.27 373.5,71.01 374,73.02 374.5,75.28 375,77.74 375.5,80.38 376,83.17 376.5,86.06 377,89.04 377.5,92.06 378,95.11 378.5,98.16 379,101.19 379.5,104.17 380,107.09 380.5,109.93 381,112.69 381.5,115.34 382,117.88 382.5,120.3 383,122.6 383.5,124.77 384,126.81 384.5,128.72 385,130.5 385.5,132.16 386,133.69 386.5,135.1 387,136.4 387.5,137.58 388,138.66 388.5,139.64 389,140.54 389.5,141.34 390,142.07 390.5,142.72 391,143.31 391.5,143.84 392,144.31 392.5,144.74 393,145.12 393.5,145.46 394,145.76 394.5,146.03 395,146.28 395.5,146.5 396,146.7 396.5,146.88 397,147.04 397.5,147.19 398,147.32 398.5,147.45 399,147.56 399.5,147.67 400,147.76 400.5,147.85 401,147.94 401.5,148.02 402,148.09 402.5,148.16 403,148.23 403.5,148.29 404,148.35 404.5,148.41 405,148.47 405.5,148.52 406,148.57 406.5,148.62 407,148.66 407.5,148.71 408,148.75 408.5,148.79 409,148.83 409.5,148.87 410,148.91 410.5,148.94 411,148.98 411.5,149.01 412,149.04 412.5,149.07 413,149.1 413.5,149.13 414,149.16 414.5,149.19 415,149.22 415.5,149.24 416,149.27 416.5,149.29 417,149.31 417.5,149.34 418,149.36 418.5,149.38 419,149.4 419.5,149.42 420,149.44 420.5,149.46 421,149.48 421.5,149.5 422,149.52 422.5,149.53 423,149.55 423.5,149.57 424,149.58 424.5,149.6 425,149.61 425.5,149.63 426,149.64 426.5,149.66 427,149.67 427.5,149.68 428,149.7 428.5,149.71 429,149.72 429.5,149.73 430,149.75 430.5,149.76 431,149.77 431.5,149.78 432,149.79 432.5,149.8 433,149.81 433.5,149.82 434,149.83 434.5,149.84 435,149.85 435.5,149.86 436,149.87 436.5,149.88 437,149.89 437.5,149.9 438,149.9 438.5,149.91 439,149.92 439.5,149.93 440,149.94 440.5,149.94 441,149.95 441.5,149.96 442,149.96 442.5,149.97 443,149.98 443.5,149.99 444,149.99 444.5,150 445,150 445.5,150.01 446,150.02 446.5,150.02 447,150.03 447.5,150.03 448,150.04 448.5,150.05 449,150.05 449.5,150.06 450,150.06 450.5,150.07 451,150.07 451.5,150.08 452,150.08 452.5,150.09 453,150.09 453.5,150.1 454,150.1 454.5,150.1 455,150.11 455.5,150.11 456,150.12 456.5,150.12 457,150.13 457.5,150.13 458,150.13 458.5,150.14 459,150.14 459.5,150.15 460,150.15 460.5,150.15 461,150.16 461.5,150.16 461.5,150.5" fill="#c4c4c4" stroke="none"/>
<polyline points="250.5,150.24 251,150.24 251.5,150.23 252,150.23 252.5,150.23 253,150.23 253.5,150.22 254,150.22 254.5,150.22 255,150.21 255.5,150.21 256,150.21 256.5,150.21 257,150.2 257.5,150.2 258,150.2 258.5,150.19 259,150.19 259.5,150.19 260,150.19 260.5,150.18 261,150.18 261.5,150.18 262,150.17 262.5,150.17 263,150.17 263.5,150.16 264,150.16 264.5,150.15 265,150.15 265.5,150.15 266,150.14 266.5,150.14 267,150.14 267.5,150.13 268,150.13 268.5,150.12 269,150.12 269.5,150.11 270,150.11 270.5,150.11 271,150.1 271.5,150.1 272,150.09 272.5,150.09 273,150.08 273.5,150.08 274,150.07 274.5,150.07 275,150.06 275.5,150.06 276,150.05 276.5,150.05 277,150.04 277.5,150.04 278,150.03 278.5,150.02 279,150.02 279.5,150.01 280,150.01 280.5,150 281,149.99 281.5,149.99 282,149.98 282.5,149.97 283,149.97 283.5,149.96 284,149.95 284.5,149.94 285,149.94 285.5,149.93 286,149.92 286.5,149.91 287,149.9 287.5,149.9 288,149.89 288.5,149.88 289,149.87 289.5,149.86 290,149.85 290.5,149.84 291,149.83 291.5,149.82 292,149.81 292.5,149.8 293,149.79 293.5,149.78 294,149.77 294.5,149.75 295,149.74 295.5,149.73 296,149.72 296.5,149.7 297,149.69 297.5,149.68 298,149.66 298.5,149.65 299,149.64 299.5,149.62 300,149.6 300.5,149.59 301,149.57 301.5,149.56 302,149.54 302.5,149.52 303,149.5 303.5,149.48 304,149.46 304.5,149.44 305,149.42 305.5,149.4 306,149.38 306.5,149.36 307,149.34 307.5,149.31 308,149.29 308.5,149.26 309,149.24 309.5,149.21 310,149.18 310.5,149.15 311,149.12 311.5,149.09 312,149.06 312.5,149.02 313,148.99 313.5,148.95 314,148.91 314.5,148.87 315,148.83 315.5,148.79 316,148.74 316.5,148.69 317,148.64 317.5,148.58 318,148.52 318.5,148.46 319,148.39 319.5,148.31 320,148.23 320.5,148.15 321,148.05 321.5,147.94 322,147.83 322.5,147.7 323,147.56 323.5,147.41 324,147.24 324.5,147.05 325,146.83 325.5,146.6 326,146.34 326.5,146.05 327,145.73 327.5,145.37 328,144.98 328.5,144.55 329,144.07 329.5,143.55 330,142.97 330.5,142.34 331,141.66 331.5,140.92 332,140.12 332.5,139.26 333,138.33 333.5,137.34 334,136.29 334.5,135.17 335,133.99 335.5,132.75 336,131.45 336.5,130.1 337,128.7 337.5,127.26 338,125.79 338.5,124.28 339,122.76 339.5,121.23 340,119.71 340.5,118.2 341,116.72 341.5,115.28 342,113.9 342.5,112.59 343,111.37 343.5,110.25 344,109.26 344.5,108.39 345,107.67 345.5,107.1 346,106.69 346.5,106.44 347,106.35 347.5,106.41 348,106.61 348.5,106.95 349,107.39 349.5,107.94 350,108.55 350.5,109.22 351,109.92 351.5,110.63 352,111.32 352.5,111.98 353,112.58 353.5,113.11 354,113.54 354.5,113.86 355,114.06 355.5,114.11 356,114.01 356.5,113.74 357,113.3 357.5,112.68 358,111.88 358.5,110.88 359,109.7 359.5,108.32 360,106.77 360.5,105.04 361,103.14 361.5,101.1 362,98.91 362.5,96.6 363,94.18 363.5,91.69 364,89.15 364.5,86.57 365,84 365.5,81.46 366,78.98 366.5,76.61 367,74.38 367.5,72.32 368,70.47 368.5,68.87 369,67.55 369.5,66.54 370,65.87 370.5,65.54 371,65.58 371.5,65.98 372,66.73 372.5,67.84 373,69.27 373.5,71.01 374,73.02 374.5,75.28 375,77.74 375.5,80.38 376,83.17 376.5,86.06 377,89.04 377.5,92.06 378,95.11 378.5,98.16 379,101.19 379.5,104.17 380,107.09 380.5,109.93 381,112.69 381.5,115.34 382,117.88 382.5,120.3 383,122.6 383.5,124.77 384,126.81 384.5,128.72 385,130.5 385.5,132.16 386,133.69 386.5,135.1 387,136.4 387.5,137.58 388,138.66 388.5,139.64 389,140.54 389.5,141.34 390,142.07 390.5,142.72 391,143.31 391.5,143.84 392,144.31 392.5,144.74 393,145.12 393.5,145.46 394,145.76 394.5,146.03 395,146.28 395.5,146.5 396,146.7 396.5,146.88 397,147.04 397.5,147.19 398,147.32 398.5,147.45 399,147.56 399.5,147.67 400,147.76 400.5,147.85 401,147.94 401.5,148.02 402,148.09 402.5,148.16 403,148.23 403.5,148.29 404,148.35 404.5,148.41 405,148.47 405.5,148.52 406,148.57 406.5,148.62 407,148.66 407.5,148.71 408,148.75 408.5,148.79 409,148.83 409.5,148.87 410,148.91 410.5,148.94 411,148.98 411.5,149.01 412,149.04 412.5,149.07 413,149.1 413.5,149.13 414,149.16 414.5,149.19 415,149.22 415.5,149.24 416,149.27 416.5,149.29 417,149.31 417.5,149.34 418,149.36 418.5,149.38 419,149.4 419.5,149.42 420,149.44 420.5,149.46 421,149.48 421.5,149.5 422,149.52 422.5,149.53 423,149.55 423.5,149.57 424,149.58 424.5,149.6 425,149.61 425.5,149.63 426,149.64 426.5,149.66 427,149.67 427.5,149.68 428,149.7 428.5,149.71 429,149.72 429.5,149.73 430,149.75 430.5,149.76 431,149.77 431.5,149.78 432,149.79 432.5,149.8 433,149.81 433.5,149.82 434,149.83 434.5,149.84 435,149.85 435.5,149.86 436,149.87 436.5,149.88 437,149.89 437.5,149.9 438,149.9 438.5,149.91 439,149.92 439.5,149.93 440,149.94 440.5,149.94 441,149.95 441.5,149.96 442,149.96 442.5,149.97 443,149.98 443.5,149.99 444,149.99 444.5,150 445,150 445.5,150.01 446,150.02 446.5,150.02 447,150.03 447.5,150.03 448,150.04 448.5,150.05 449,150.05 449.5,150.06 450,150.06 450.5,150.07 451,150.07 451.5,150.08 452,150.08 452.5,150.09 453,150.09 453.5,150.1 454,150.1 454.5,150.1 455,150.11 455.5,150.11 456,150.12 456.5,150.12 457,150.13 457.5,150.13 458,150.13 458.5,150.14 459,150.14 459.5,150.15 460,150.15 460.5,150.15 461,150.16 461.5,150.16" fill="none" stroke="#1c1c1c" stroke-width="0.9"/>
<polygon points="250.5,150.5 250.5,150.44 251,150.44 251.5,150.44 252,150.44 252.5,150.44 253,150.44 253.5,150.44 254,150.44 254.5,150.44 255,150.44 255.5,150.43 256,150.43 256.5,150.43 257,150.43 257.5,150.43 258,150.43 258.5,150.43 259,150.43 259.5,150.43 260,150.42 260.5,150.42 261,150.42 261.5,150.42 262,150.42 262.5,150.42 263,150.42 263.5,150.42 264,150.41 264.5,150.41 265,150.41 265.5,150.41 266,150.41 266.5,150.41 267,150.4 267.5,150.4 268,150.4 268.5,150.4 269,150.4 269.5,150.39 270,150.39 270.5,150.39 271,150.39 271.5,150.38 272,150.38 272.5,150.38 273,150.38 273.5,150.37 274,150.37 274.5,150.37 275,150.37 275.5,150.36 276,150.36 276.5,150.36 277,150.35 277.5,150.35 278,150.34 278.5,150.34 279,150.34 279.5,150.33 280,150.33 280.5,150.32 281,150.32 281.5,150.31 282,150.3 282.5,150.29 283,150.29 283.5,150.28 284,150.27 284.5,150.26 285,150.24 285.5,150.23 286,150.22 286.5,150.2 287,150.18 287.5,150.16 288,150.13 288.5,150.11 289,150.07 289.5,150.04 290,150 290.5,149.95 291,149.9 291.5,149.85 292,149.79 292.5,149.72 293,149.64 293.5,149.56 294,149.46 294.5,149.36 295,149.25 295.5,149.13 296,149 296.5,148.86 297,148.7 297.5,148.54 298,148.37 298.5,148.19 299,148 299.5,147.8 300,147.59 300.5,147.37 301,147.15 301.5,146.92 302,146.69 302.5,146.46 303,146.23 303.5,146 304,145.77 304.5,145.55 305,145.34 305.5,145.13 306,144.94 306.5,144.77 307,144.61 307.5,144.47 308,144.35 308.5,144.25 309,144.17 309.5,144.12 310,144.09 310.5,144.09 311,144.1 311.5,144.14 312,144.2 312.5,144.27 313,144.35 313.5,144.45 314,144.55 314.5,144.65 315,144.76 315.5,144.86 316,144.95 316.5,145.03 317,145.11 317.5,145.16 318,145.2 318.5,145.21 319,145.2 319.5,145.17 320,145.11 320.5,145.02 321,144.9 321.5,144.76 322,144.58 322.5,144.38 323,144.15 323.5,143.89 324,143.61 324.5,143.31 325,142.98 325.5,142.64 326,142.29 326.5,141.93 327,141.56 327.5,141.19 328,140.83 328.5,140.47 329,140.13 329.5,139.81 330,139.51 330.5,139.24 331,139.01 331.5,138.82 332,138.66 332.5,138.56 333,138.51 333.5,138.5 334,138.55 334.5,138.65 335,138.79 335.5,138.99 336,139.23 336.5,139.51 337,139.83 337.5,140.18 338,140.55 338.5,140.95 339,141.37 339.5,141.8 340,142.24 340.5,142.69 341,143.14 341.5,143.58 342,144.02 342.5,144.45 343,144.87 343.5,145.28 344,145.67 344.5,146.05 345,146.41 345.5,146.75 346,147.07 346.5,147.37 347,147.65 347.5,147.91 348,148.15 348.5,148.37 349,148.57 349.5,148.76 350,148.92 350.5,149.08 351,149.21 351.5,149.34 352,149.45 352.5,149.55 353,149.63 353.5,149.71 354,149.78 354.5,149.84 355,149.9 355.5,149.94 356,149.98 356.5,150.02 357,150.05 357.5,150.08 358,150.11 358.5,150.13 359,150.15 359.5,150.17 360,150.18 360.5,150.2 361,150.21 361.5,150.22 362,150.23 362.5,150.24 363,150.25 363.5,150.26 364,150.27 364.5,150.28 365,150.28 365.5,150.29 366,150.3 366.5,150.3 367,150.31 367.5,150.31 368,150.32 368.5,150.32 369,150.33 369.5,150.33 370,150.33 370.5,150.34 371,150.34 371.5,150.35 372,150.35 372.5,150.35 373,150.36 373.5,150.36 374,150.36 374.5,150.37 375,150.37 375.5,150.37 376,150.37 376.5,150.38 377,150.38 377.5,150.38 378,150.38 378.5,150.39 379,150.39 379.5,150.39 380,150.39 380.5,150.39 381,150.4 381.5,150.4 382,150.4 382.5,150.4 383,150.4 383.5,150.41 384,150.41 384.5,150.41 385,150.41 385.5,150.41 386,150.41 386.5,150.42 387,150.42 387.5,150.42 388,150.42 388.5,150.42 389,150.42 389.5,150.42 390,150.42 390.5,150.43 391,150.43 391.5,150.43 392,150.43 392.5,150.43 393,150.43 393.5,150.43 394,150.43 394.5,150.43 395,150.44 395.5,150.44 396,150.44 396.5,150.44 397,150.44 397.5,150.44 398,150.44 398.5,150.44 399,150.44 399.5,150.44 400,150.44 400.5,150.44 401,150.45 401.5,150.45 402,150.45 402.5,150.45 403,150.45 403.5,150.45 404,150.45 404.5,150.45 405,150.45 405.5,150.45 406,150.45 406.5,150.45 407,150.45 407.5,150.45 408,150.45 408.5,150.46 409,150.46 409.5,150.46 410,150.46 410.5,150.46 411,150.46 411.5,150.46 412,150.46 412.5,150.46 413,150.46 413.5,150.46 414,150.46 414.5,150.46 415,150.46 415.5,150.46 416,150.46 416.5,150.46 417,150.46 417.5,150.46 418,150.46 418.5,150.46 419,150.47 419.5,150.47 420,150.47 420.5,150.47 421,150.47 421.5,150.47 422,150.47 422.5,150.47 423,150.47 423.5,150.47 424,150.47 424.5,150.47 425,150.47 425.5,150.47 426,150.47 426.5,150.47 427,150.47 427.5,150.47 428,150.47 428.5,150.47 429,150.47 429.5,150.47 430,150.47 430.5,150.47 431,150.47 431.5,150.47 432,150.47 432.5,150.47 433,150.47 433.5,150.47 434,150.47 434.5,150.47 435,150.47 435.5,150.47 436,150.48 436.5,150.48 437,150.48 437.5,150.48 438,150.48 438.5,150.48 439,150.48 439.5,150.48 440,150.48 440.5,150.48 441,150.48 441.5,150.48 442,150.48 442.5,150.48 443,150.48 443.5,150.48 444,150.48 444.5,150.48 445,150.48 445.5,150.48 446,150.48 446.5,150.48 447,150.48 447.5,150.48 448,150.48 448.5,150.48 449,150.48 449.5,150.48 450,150.48 450.5,150.48 451,150.48 451.5,150.48 452,150.48 452.5,150.48 453,150.48 453.5,150.48 454,150.48 454.5,150.48 455,150.48 455.5,150.48 456,150.48 456.5,150.48 457,150.48 457.5,150.48 458,150.48 458.5,150.48 459,150.48 459.5,150.48 460,150.48 460.5,150.48 461,150.48 461.5,150.48 461.5,150.5" fill="#404040" stroke="none"/>
<polyline points="250.5,150.44 251,150.44 251.5,150.44 252,150.44 252.5,150.44 253,150.44 253.5,150.44 254,150.44 254.5,150.44 255,150.44 255.5,150.43 256,150.43 256.5,150.43 257,150.43 257.5,150.43 258,150.43 258.5,150.43 259,150.43 259.5,150.43 260,150.42 260.5,150.42 261,150.42 261.5,150.42 262,150.42 262.5,150.42 263,150.42 263.5,150.42 264,150.41 264.5,150.41 265,150.41 265.5,150.41 266,150.41 266.5,150.41 267,150.4 267.5,150.4 268,150.4 268.5,150.4 269,150.4 269.5,150.39 270,150.39 270.5,150.39 271,150.39 271.5,150.38 272,150.38 272.5,150.38 273,150.38 273.5,150.37 274,150.37 274.5,150.37 275,150.37 275.5,150.36 276,150.36 276.5,150.36 277,150.35 277.5,150.35 278,150.34 278.5,150.34 279,150.34 279.5,150.33 280,150.33 280.5,150.32 281,150.32 281.5,150.31 282,150.3 282.5,150.29 283,150.29 283.5,150.28 284,150.27 284.5,150.26 285,150.24 285.5,150.23 286,150.22 286.5,150.2 287,150.18 287.5,150.16 288,150.13 288.5,150.11 289,150.07 289.5,150.04 290,150 290.5,149.95 291,149.9 291.5,149.85 292,149.79 292.5,149.72 293,149.64 293.5,149.56 294,149.46 294.5,149.36 295,149.25 295.5,149.13 296,149 296.5,148.86 297,148.7 297.5,148.54 298,148.37 298.5,148.19 299,148 299.5,147.8 300,147.59 300.5,147.37 301,147.15 301.5,146.92 302,146.69 302.5,146.46 303,146.23 303.5,146 304,145.77 304.5,145.55 305,145.34 305.5,145.13 306,144.94 306.5,144.77 307,144.61 307.5,144.47 308,144.35 308.5,144.25 309,144.17 309.5,144.12 310,144.09 310.5,144.09 311,144.1 311.5,144.14 312,144.2 312.5,144.27 313,144.35 313.5,144.45 314,144.55 314.5,144.65 315,144.76 315.5,144.86 316,144.95 316.5,145.03 317,145.11 317.5,145.16 318,145.2 318.5,145.21 319,145.2 319.5,145.17 320,145.11 320.5,145.02 321,144.9 321.5,144.76 322,144.58 322.5,144.38 323,144.15 323.5,143.89 324,143.61 324.5,143.31 325,142.98 325.5,142.64 326,142.29 326.5,141.93 327,141.56 327.5,141.19 328,140.83 328.5,140.47 329,140.13 329.5,139.81 330,139.51 330.5,139.24 331,139.01 331.5,138.82 332,138.66 332.5,138.56 333,138.51 333.5,138.5 334,138.55 334.5,138.65 335,138.79 335.5,138.99 336,139.23 336.5,139.51 337,139.83 337.5,140.18 338,140.55 338.5,140.95 339,141.37 339.5,141.8 340,142.24 340.5,142.69 341,143.14 341.5,143.58 342,144.02 342.5,144.45 343,144.87 343.5,145.28 344,145.67 344.5,146.05 345,146.41 345.5,146.75 346,147.07 346.5,147.37 347,147.65 347.5,147.91 348,148.15 348.5,148.37 349,148.57 349.5,148.76 350,148.92 350.5,149.08 351,149.21 351.5,149.34 352,149.45 352.5,149.55 353,149.63 353.5,149.71 354,149.78 354.5,149.84 355,149.9 355.5,149.94 356,149.98 356.5,150.02 357,150.05 357.5,150.08 358,150.11 358.5,150.13 359,150.15 359.5,150.17 360,150.18 360.5,150.2 361,150.21 361.5,150.22 362,150.23 362.5,150.24 363,150.25 363.5,150.26 364,150.27 364.5,150.28 365,150.28 365.5,150.29 366,150.3 366.5,150.3 367,150.31 367.5,150.31 368,150.32 368.5,150.32 369,150.33 369.5,150.33 370,150.33 370.5,150.34 371,150.34 371.5,150.35 372,150.35 372.5,150.35 373,150.36 373.5,150.36 374,150.36 374.5,150.37 375,150.37 375.5,150.37 376,150.37 376.5,150.38 377,150.38 377.5,150.38 378,150.38 378.5,150.39 379,150.39 379.5,150.39 380,150.39 380.5,150.39 381,150.4 381.5,150.4 382,150.4 382.5,150.4 383,150.4 383.5,150.41 384,150.41 384.5,150.41 385,150.41 385.5,150.41 386,150.41 386.5,150.42 387,150.42 387.5,150.42 388,150.42 388.5,150.42 389,150.42 389.5,150.42 390,150.42 390.5,150.43 391,150.43 391.5,150.43 392,150.43 392.5,150.43 393,150.43 393.5,150.43 394,150.43 394.5,150.43 395,150.44 395.5,150.44 396,150.44 396.5,150.44 397,150.44 397.5,150.44 398,150.44 398.5,150.44 399,150.44 399.5,150.44 400,150.44 400.5,150.44 401,150.45 401.5,150.45 402,150.45 402.5,150.45 403,150.45 403.5,150.45 404,150.45 404.5,150.45 405,150.45 405.5,150.45 406,150.45 406.5,150.45 407,150.45 407.5,150.45 408,150.45 408.5,150.46 409,150.46 409.5,150.46 410,150.46 410.5,150.46 411,150.46 411.5,150.46 412,150.46 412.5,150.46 413,150.46 413.5,150.46 414,150.46 414.5,150.46 415,150.46 415.5,150.46 416,150.46 416.5,150.46 417,150.46 417.5,150.46 418,150.46 418.5,150.46 419,150.47 419.5,150.47 420,150.47 420.5,150.47 421,150.47 421.5,150.47 422,150.47 422.5,150.47 423,150.47 423.5,150.47 424,150.47 424.5,150.47 425,150.47 425.5,150.47 426,150.47 426.5,150.47 427,150.47 427.5,150.47 428,150.47 428.5,150.47 429,150.47 429.5,150.47 430,150.47 430.5,150.47 431,150.47 431.5,150.47 432,150.47 432.5,150.47 433,150.47 433.5,150.47 434,150.47 434.5,150.47 435,150.47 435.5,150.47 436,150.48 436.5,150.48 437,150.48 437.5,150.48 438,150.48 438.5,150.48 439,150.48 439.5,150.48 440,150.48 440.5,150.48 441,150.48 441.5,150.48 442,150.48 442.5,150.48 443,150.48 443.5,150.48 444,150.48 444.5,150.48 445,150.48 445.5,150.48 446,150.48 446.5,150.48 447,150.48 447.5,150.48 448,150.48 448.5,150.48 449,150.48 449.5,150.48 450,150.48 450.5,150.48 451,150.48 451.5,150.48 452,150.48 452.5,150.48 453,150.48 453.5,150.48 454,150.48 454.5,150.48 455,150.48 455.5,150.48 456,150.48 456.5,150.48 457,150.48 457.5,150.48 458,150.48 458.5,150.48 459,150.48 459.5,150.48 460,150.48 460.5,150.48 461,150.48 461.5,150.48" fill="none" stroke="#333" stroke-width="0.6"/>
<line x1="250.5" y1="150.5" x2="461.1" y2="150.5" stroke="#1a1a1a" stroke-width="0.9"/>
<polyline points="250.5,129.98 252.69,130.1 254.89,130.16 257.08,130.3 259.28,130.15 261.47,130.32 263.66,129.62 265.86,129.98 268.05,130.37 270.25,130.14 272.44,130.35 274.63,129.71 276.83,129.98 279.02,129.77 281.22,129.95 283.41,129.87 285.6,129.26 287.8,129.17 289.99,128.84 292.19,128.8 294.38,127.91 296.57,126.42 298.77,125.7 300.96,123.76 303.16,122.69 305.35,120.98 307.54,119.91 309.74,120.17 311.93,119.78 314.13,120.3 316.32,121.48 318.51,121.61 320.71,120.65 322.9,119.76 325.1,117.02 327.29,113.92 329.48,109.79 331.68,106.32 333.87,101.87 336.07,97.61 338.26,92.79 340.45,87.54 342.65,83.51 344.84,81.03 347.04,81.35 349.23,84.21 351.42,88.63 353.62,92.61 355.81,93.72 358.01,92.55 360.2,86.82 362.39,77.98 364.59,67.5 366.78,56.51 368.98,48.7 371.17,46.95 373.36,52.03 375.56,61.78 377.75,75.51 379.95,88.01 382.14,100.46 384.33,110.14 386.53,116.62 388.72,122.17 390.92,125.05 393.11,127.24 395.3,128.05 397.5,128.9 399.69,129.56 401.89,130.6 404.08,130.32 406.27,131.03 408.47,131.41 410.66,131.62 412.86,131.32 415.05,131.49 417.24,131.78 419.44,132.11 421.63,131.7 423.83,132.32 426.02,132.47 428.21,132.61 430.41,132.05 432.6,132.86 434.8,132.26 436.99,132.53 439.18,132.82 441.38,133.14 443.57,132.74 445.77,133.28 447.96,133.04 450.15,132.91 452.35,132.97 454.54,132.92 456.74,132.89 458.93,133.01 461.12,133.49" fill="none" stroke="#111" stroke-width="0.7"/>
<g fill="#0a0a0a"><circle cx="250.5" cy="129.98" r="1.62"/><circle cx="252.69" cy="130.1" r="1.62"/><circle cx="254.89" cy="130.16" r="1.62"/><circle cx="257.08" cy="130.3" r="1.62"/><circle cx="259.28" cy="130.15" r="1.62"/><circle cx="261.47" cy="130.32" r="1.62"/><circle cx="263.66" cy="129.62" r="1.62"/><circle cx="265.86" cy="129.98" r="1.62"/><circle cx="268.05" cy="130.37" r="1.62"/><circle cx="270.25" cy="130.14" r="1.62"/><circle cx="272.44" cy="130.35" r="1.62"/><circle cx="274.63" cy="129.71" r="1.62"/><circle cx="276.83" cy="129.98" r="1.62"/><circle cx="279.02" cy="129.77" r="1.62"/><circle cx="281.22" cy="129.95" r="1.62"/><circle cx="283.41" cy="129.87" r="1.62"/><circle cx="285.6" cy="129.26" r="1.62"/><circle cx="287.8" cy="129.17" r="1.62"/><circle cx="289.99" cy="128.84" r="1.62"/><circle cx="292.19" cy="128.8" r="1.62"/><circle cx="294.38" cy="127.91" r="1.62"/><circle cx="296.57" cy="126.42" r="1.62"/><circle cx="298.77" cy="125.7" r="1.62"/><circle cx="300.96" cy="123.76" r="1.62"/><circle cx="303.16" cy="122.69" r="1.62"/><circle cx="305.35" cy="120.98" r="1.62"/><circle cx="307.54" cy="119.91" r="1.62"/><circle cx="309.74" cy="120.17" r="1.62"/><circle cx="311.93" cy="119.78" r="1.62"/><circle cx="314.13" cy="120.3" r="1.62"/><circle cx="316.32" cy="121.48" r="1.62"/><circle cx="318.51" cy="121.61" r="1.62"/><circle cx="320.71" cy="120.65" r="1.62"/><circle cx="322.9" cy="119.76" r="1.62"/><circle cx="325.1" cy="117.02" r="1.62"/><circle cx="327.29" cy="113.92" r="1.62"/><circle cx="329.48" cy="109.79" r="1.62"/><circle cx="331.68" cy="106.32" r="1.62"/><circle cx="333.87" cy="101.87" r="1.62"/><circle cx="336.07" cy="97.61" r="1.62"/><circle cx="338.26" cy="92.79" r="1.62"/><circle cx="340.45" cy="87.54" r="1.62"/><circle cx="342.65" cy="83.51" r="1.62"/><circle cx="344.84" cy="81.03" r="1.62"/><circle cx="347.04" cy="81.35" r="1.62"/><circle cx="349.23" cy="84.21" r="1.62"/><circle cx="351.42" cy="88.63" r="1.62"/><circle cx="353.62" cy="92.61" r="1.62"/><circle cx="355.81" cy="93.72" r="1.62"/><circle cx="358.01" cy="92.55" r="1.62"/><circle cx="360.2" cy="86.82" r="1.62"/><circle cx="362.39" cy="77.98" r="1.62"/><circle cx="364.59" cy="67.5" r="1.62"/><circle cx="366.78" cy="56.51" r="1.62"/><circle cx="368.98" cy="48.7" r="1.62"/><circle cx="371.17" cy="46.95" r="1.62"/><circle cx="373.36" cy="52.03" r="1.62"/><circle cx="375.56" cy="61.78" r="1.62"/><circle cx="377.75" cy="75.51" r="1.62"/><circle cx="379.95" cy="88.01" r="1.62"/><circle cx="382.14" cy="100.46" r="1.62"/><circle cx="384.33" cy="110.14" r="1.62"/><circle cx="386.53" cy="116.62" r="1.62"/><circle cx="388.72" cy="122.17" r="1.62"/><circle cx="390.92" cy="125.05" r="1.62"/><circle cx="393.11" cy="127.24" r="1.62"/><circle cx="395.3" cy="128.05" r="1.62"/><circle cx="397.5" cy="128.9" r="1.62"/><circle cx="399.69" cy="129.56" r="1.62"/><circle cx="401.89" cy="130.6" r="1.62"/><circle cx="404.08" cy="130.32" r="1.62"/><circle cx="406.27" cy="131.03" r="1.62"/><circle cx="408.47" cy="131.41" r="1.62"/><circle cx="410.66" cy="131.62" r="1.62"/><circle cx="412.86" cy="131.32" r="1.62"/><circle cx="415.05" cy="131.49" r="1.62"/><circle cx="417.24" cy="131.78" r="1.62"/><circle cx="419.44" cy="132.11" r="1.62"/><circle cx="421.63" cy="131.7" r="1.62"/><circle cx="423.83" cy="132.32" r="1.62"/><circle cx="426.02" cy="132.47" r="1.62"/><circle cx="428.21" cy="132.61" r="1.62"/><circle cx="430.41" cy="132.05" r="1.62"/><circle cx="432.6" cy="132.86" r="1.62"/><circle cx="434.8" cy="132.26" r="1.62"/><circle cx="436.99" cy="132.53" r="1.62"/><circle cx="439.18" cy="132.82" r="1.62"/><circle cx="441.38" cy="133.14" r="1.62"/><circle cx="443.57" cy="132.74" r="1.62"/><circle cx="445.77" cy="133.28" r="1.62"/><circle cx="447.96" cy="133.04" r="1.62"/><circle cx="450.15" cy="132.91" r="1.62"/><circle cx="452.35" cy="132.97" r="1.62"/><circle cx="454.54" cy="132.92" r="1.62"/><circle cx="456.74" cy="132.89" r="1.62"/><circle cx="458.93" cy="133.01" r="1.62"/><circle cx="461.12" cy="133.49" r="1.62"/></g>
</g>
<line x1="250" y1="0.4" x2="461.6" y2="0.4" stroke="#464646" stroke-width="1"/>
<line x1="461.1" y1="0.4" x2="461.1" y2="173.9" stroke="#858585" stroke-width="1.3"/>
<line x1="250.5" y1="0.4" x2="250.5" y2="175.2" stroke="#333" stroke-width="1.1"/>
<line x1="250" y1="173.9" x2="461.7" y2="173.9" stroke="#484848" stroke-width="1.25"/>
<path d="M250.5 173.9v1.8M261.47 173.9v1.8M272.44 173.9v3.2M283.41 173.9v1.8M294.38 173.9v1.8M305.35 173.9v1.8M316.32 173.9v3.2M327.29 173.9v1.8M338.26 173.9v1.8M349.23 173.9v1.8M360.2 173.9v3.2M371.17 173.9v1.8M382.14 173.9v1.8M393.11 173.9v1.8M404.08 173.9v3.2M415.05 173.9v1.8M426.02 173.9v1.8M436.99 173.9v1.8M447.96 173.9v3.2M458.93 173.9v1.8" stroke="#222" stroke-width="0.8" fill="none"/>
<text x="272.44" y="190.3" text-anchor="middle" font-size="15.2" font-weight="bold">166</text>
<text x="316.32" y="190.3" text-anchor="middle" font-size="15.2" font-weight="bold">164</text>
<text x="360.2" y="190.3" text-anchor="middle" font-size="15.2" font-weight="bold">162</text>
<text x="404.08" y="190.3" text-anchor="middle" font-size="15.2" font-weight="bold">160</text>
<text x="447.96" y="190.3" text-anchor="middle" font-size="15.2" font-weight="bold">158</text>
<text x="257.1" y="26.3" font-size="19.3" font-weight="bold">S 2<tspan font-style="italic">p</tspan></text>
<text x="459.3" y="24.5" font-size="23" font-weight="bold" text-anchor="end">(b)</text>
</g>
<g>
<clipPath id="cc"><rect x="473.4" y="0.4" width="210.6" height="173.5"/></clipPath>
<g clip-path="url(#cc)">
<line x1="473.4" y1="130" x2="684" y2="133.5" stroke="#2a2a2a" stroke-width="0.8"/>
<polygon points="473.4,150.5 473.4,150.21 473.9,150.21 474.4,150.2 474.9,150.2 475.4,150.2 475.9,150.19 476.4,150.19 476.9,150.19 477.4,150.19 477.9,150.18 478.4,150.18 478.9,150.18 479.4,150.17 479.9,150.17 480.4,150.17 480.9,150.16 481.4,150.16 481.9,150.16 482.4,150.15 482.9,150.15 483.4,150.15 483.9,150.14 484.4,150.14 484.9,150.14 485.4,150.13 485.9,150.13 486.4,150.12 486.9,150.12 487.4,150.12 487.9,150.11 488.4,150.11 488.9,150.1 489.4,150.1 489.9,150.09 490.4,150.09 490.9,150.09 491.4,150.08 491.9,150.08 492.4,150.07 492.9,150.07 493.4,150.06 493.9,150.06 494.4,150.05 494.9,150.05 495.4,150.04 495.9,150.04 496.4,150.03 496.9,150.03 497.4,150.02 497.9,150.01 498.4,150.01 498.9,150 499.4,150 499.9,149.99 500.4,149.98 500.9,149.98 501.4,149.97 501.9,149.96 502.4,149.96 502.9,149.95 503.4,149.94 503.9,149.94 504.4,149.93 504.9,149.92 505.4,149.91 505.9,149.91 506.4,149.9 506.9,149.89 507.4,149.88 507.9,149.87 508.4,149.87 508.9,149.86 509.4,149.85 509.9,149.84 510.4,149.83 510.9,149.82 511.4,149.81 511.9,149.8 512.4,149.79 512.9,149.78 513.4,149.77 513.9,149.76 514.4,149.75 514.9,149.74 515.4,149.72 515.9,149.71 516.4,149.7 516.9,149.69 517.4,149.68 517.9,149.66 518.4,149.65 518.9,149.63 519.4,149.62 519.9,149.61 520.4,149.59 520.9,149.58 521.4,149.56 521.9,149.54 522.4,149.53 522.9,149.51 523.4,149.49 523.9,149.48 524.4,149.46 524.9,149.44 525.4,149.42 525.9,149.4 526.4,149.38 526.9,149.36 527.4,149.34 527.9,149.32 528.4,149.29 528.9,149.27 529.4,149.24 529.9,149.22 530.4,149.19 530.9,149.17 531.4,149.14 531.9,149.11 532.4,149.08 532.9,149.05 533.4,149.02 533.9,148.99 534.4,148.95 534.9,148.92 535.4,148.88 535.9,148.84 536.4,148.8 536.9,148.76 537.4,148.71 537.9,148.67 538.4,148.62 538.9,148.57 539.4,148.51 539.9,148.45 540.4,148.39 540.9,148.33 541.4,148.25 541.9,148.18 542.4,148.09 542.9,148 543.4,147.91 543.9,147.8 544.4,147.68 544.9,147.55 545.4,147.41 545.9,147.26 546.4,147.09 546.9,146.9 547.4,146.69 547.9,146.46 548.4,146.21 548.9,145.93 549.4,145.62 549.9,145.28 550.4,144.9 550.9,144.49 551.4,144.04 551.9,143.55 552.4,143.01 552.9,142.42 553.4,141.79 553.9,141.1 554.4,140.35 554.9,139.55 555.4,138.69 555.9,137.77 556.4,136.79 556.9,135.75 557.4,134.66 557.9,133.5 558.4,132.29 558.9,131.02 559.4,129.7 559.9,128.34 560.4,126.93 560.9,125.49 561.4,124.02 561.9,122.53 562.4,121.02 562.9,119.51 563.4,118.01 563.9,116.52 564.4,115.06 564.9,113.64 565.4,112.28 565.9,110.98 566.4,109.76 566.9,108.64 567.4,107.62 567.9,106.71 568.4,105.94 568.9,105.3 569.4,104.8 569.9,104.44 570.4,104.22 570.9,104.13 571.4,104.17 571.9,104.33 572.4,104.59 572.9,104.93 573.4,105.34 573.9,105.8 574.4,106.29 574.9,106.78 575.4,107.27 575.9,107.72 576.4,108.12 576.9,108.46 577.4,108.71 577.9,108.86 578.4,108.89 578.9,108.8 579.4,108.57 579.9,108.2 580.4,107.67 580.9,106.98 581.4,106.12 581.9,105.1 582.4,103.92 582.9,102.57 583.4,101.07 583.9,99.42 584.4,97.63 584.9,95.71 585.4,93.68 585.9,91.56 586.4,89.35 586.9,87.09 587.4,84.8 587.9,82.5 588.4,80.22 588.9,77.98 589.4,75.83 589.9,73.78 590.4,71.87 590.9,70.14 591.4,68.61 591.9,67.32 592.4,66.28 592.9,65.53 593.4,65.09 593.9,64.95 594.4,65.15 594.9,65.66 595.4,66.49 595.9,67.63 596.4,69.06 596.9,70.76 597.4,72.7 597.9,74.86 598.4,77.21 598.9,79.72 599.4,82.36 599.9,85.1 600.4,87.92 600.9,90.8 601.4,93.7 601.9,96.61 602.4,99.5 602.9,102.37 603.4,105.19 603.9,107.94 604.4,110.62 604.9,113.22 605.4,115.72 605.9,118.12 606.4,120.41 606.9,122.59 607.4,124.66 607.9,126.6 608.4,128.43 608.9,130.14 609.4,131.74 609.9,133.23 610.4,134.6 610.9,135.87 611.4,137.04 611.9,138.11 612.4,139.09 612.9,139.98 613.4,140.8 613.9,141.54 614.4,142.21 614.9,142.81 615.4,143.36 615.9,143.86 616.4,144.3 616.9,144.7 617.4,145.06 617.9,145.39 618.4,145.68 618.9,145.95 619.4,146.18 619.9,146.4 620.4,146.59 620.9,146.77 621.4,146.93 621.9,147.08 622.4,147.22 622.9,147.34 623.4,147.45 623.9,147.56 624.4,147.66 624.9,147.75 625.4,147.84 625.9,147.92 626.4,147.99 626.9,148.06 627.4,148.13 627.9,148.19 628.4,148.26 628.9,148.31 629.4,148.37 629.9,148.42 630.4,148.47 630.9,148.52 631.4,148.57 631.9,148.61 632.4,148.66 632.9,148.7 633.4,148.74 633.9,148.78 634.4,148.82 634.9,148.85 635.4,148.89 635.9,148.92 636.4,148.96 636.9,148.99 637.4,149.02 637.9,149.05 638.4,149.08 638.9,149.11 639.4,149.14 639.9,149.16 640.4,149.19 640.9,149.21 641.4,149.24 641.9,149.26 642.4,149.28 642.9,149.31 643.4,149.33 643.9,149.35 644.4,149.37 644.9,149.39 645.4,149.41 645.9,149.43 646.4,149.45 646.9,149.47 647.4,149.48 647.9,149.5 648.4,149.52 648.9,149.53 649.4,149.55 649.9,149.56 650.4,149.58 650.9,149.59 651.4,149.61 651.9,149.62 652.4,149.64 652.9,149.65 653.4,149.66 653.9,149.68 654.4,149.69 654.9,149.7 655.4,149.71 655.9,149.72 656.4,149.74 656.9,149.75 657.4,149.76 657.9,149.77 658.4,149.78 658.9,149.79 659.4,149.8 659.9,149.81 660.4,149.82 660.9,149.83 661.4,149.84 661.9,149.85 662.4,149.86 662.9,149.86 663.4,149.87 663.9,149.88 664.4,149.89 664.9,149.9 665.4,149.9 665.9,149.91 666.4,149.92 666.9,149.93 667.4,149.93 667.9,149.94 668.4,149.95 668.9,149.96 669.4,149.96 669.9,149.97 670.4,149.98 670.9,149.98 671.4,149.99 671.9,149.99 672.4,150 672.9,150.01 673.4,150.01 673.9,150.02 674.4,150.02 674.9,150.03 675.4,150.03 675.9,150.04 676.4,150.04 676.9,150.05 677.4,150.05 677.9,150.06 678.4,150.06 678.9,150.07 679.4,150.07 679.9,150.08 680.4,150.08 680.9,150.09 681.4,150.09 681.9,150.1 682.4,150.1 682.9,150.1 683.4,150.11 683.9,150.11 684.4,150.12 684.4,150.5" fill="#c4c4c4" stroke="none"/>
<polyline points="473.4,150.21 473.9,150.21 474.4,150.2 474.9,150.2 475.4,150.2 475.9,150.19 476.4,150.19 476.9,150.19 477.4,150.19 477.9,150.18 478.4,150.18 478.9,150.18 479.4,150.17 479.9,150.17 480.4,150.17 480.9,150.16 481.4,150.16 481.9,150.16 482.4,150.15 482.9,150.15 483.4,150.15 483.9,150.14 484.4,150.14 484.9,150.14 485.4,150.13 485.9,150.13 486.4,150.12 486.9,150.12 487.4,150.12 487.9,150.11 488.4,150.11 488.9,150.1 489.4,150.1 489.9,150.09 490.4,150.09 490.9,150.09 491.4,150.08 491.9,150.08 492.4,150.07 492.9,150.07 493.4,150.06 493.9,150.06 494.4,150.05 494.9,150.05 495.4,150.04 495.9,150.04 496.4,150.03 496.9,150.03 497.4,150.02 497.9,150.01 498.4,150.01 498.9,150 499.4,150 499.9,149.99 500.4,149.98 500.9,149.98 501.4,149.97 501.9,149.96 502.4,149.96 502.9,149.95 503.4,149.94 503.9,149.94 504.4,149.93 504.9,149.92 505.4,149.91 505.9,149.91 506.4,149.9 506.9,149.89 507.4,149.88 507.9,149.87 508.4,149.87 508.9,149.86 509.4,149.85 509.9,149.84 510.4,149.83 510.9,149.82 511.4,149.81 511.9,149.8 512.4,149.79 512.9,149.78 513.4,149.77 513.9,149.76 514.4,149.75 514.9,149.74 515.4,149.72 515.9,149.71 516.4,149.7 516.9,149.69 517.4,149.68 517.9,149.66 518.4,149.65 518.9,149.63 519.4,149.62 519.9,149.61 520.4,149.59 520.9,149.58 521.4,149.56 521.9,149.54 522.4,149.53 522.9,149.51 523.4,149.49 523.9,149.48 524.4,149.46 524.9,149.44 525.4,149.42 525.9,149.4 526.4,149.38 526.9,149.36 527.4,149.34 527.9,149.32 528.4,149.29 528.9,149.27 529.4,149.24 529.9,149.22 530.4,149.19 530.9,149.17 531.4,149.14 531.9,149.11 532.4,149.08 532.9,149.05 533.4,149.02 533.9,148.99 534.4,148.95 534.9,148.92 535.4,148.88 535.9,148.84 536.4,148.8 536.9,148.76 537.4,148.71 537.9,148.67 538.4,148.62 538.9,148.57 539.4,148.51 539.9,148.45 540.4,148.39 540.9,148.33 541.4,148.25 541.9,148.18 542.4,148.09 542.9,148 543.4,147.91 543.9,147.8 544.4,147.68 544.9,147.55 545.4,147.41 545.9,147.26 546.4,147.09 546.9,146.9 547.4,146.69 547.9,146.46 548.4,146.21 548.9,145.93 549.4,145.62 549.9,145.28 550.4,144.9 550.9,144.49 551.4,144.04 551.9,143.55 552.4,143.01 552.9,142.42 553.4,141.79 553.9,141.1 554.4,140.35 554.9,139.55 555.4,138.69 555.9,137.77 556.4,136.79 556.9,135.75 557.4,134.66 557.9,133.5 558.4,132.29 558.9,131.02 559.4,129.7 559.9,128.34 560.4,126.93 560.9,125.49 561.4,124.02 561.9,122.53 562.4,121.02 562.9,119.51 563.4,118.01 563.9,116.52 564.4,115.06 564.9,113.64 565.4,112.28 565.9,110.98 566.4,109.76 566.9,108.64 567.4,107.62 567.9,106.71 568.4,105.94 568.9,105.3 569.4,104.8 569.9,104.44 570.4,104.22 570.9,104.13 571.4,104.17 571.9,104.33 572.4,104.59 572.9,104.93 573.4,105.34 573.9,105.8 574.4,106.29 574.9,106.78 575.4,107.27 575.9,107.72 576.4,108.12 576.9,108.46 577.4,108.71 577.9,108.86 578.4,108.89 578.9,108.8 579.4,108.57 579.9,108.2 580.4,107.67 580.9,106.98 581.4,106.12 581.9,105.1 582.4,103.92 582.9,102.57 583.4,101.07 583.9,99.42 584.4,97.63 584.9,95.71 585.4,93.68 585.9,91.56 586.4,89.35 586.9,87.09 587.4,84.8 587.9,82.5 588.4,80.22 588.9,77.98 589.4,75.83 589.9,73.78 590.4,71.87 590.9,70.14 591.4,68.61 591.9,67.32 592.4,66.28 592.9,65.53 593.4,65.09 593.9,64.95 594.4,65.15 594.9,65.66 595.4,66.49 595.9,67.63 596.4,69.06 596.9,70.76 597.4,72.7 597.9,74.86 598.4,77.21 598.9,79.72 599.4,82.36 599.9,85.1 600.4,87.92 600.9,90.8 601.4,93.7 601.9,96.61 602.4,99.5 602.9,102.37 603.4,105.19 603.9,107.94 604.4,110.62 604.9,113.22 605.4,115.72 605.9,118.12 606.4,120.41 606.9,122.59 607.4,124.66 607.9,126.6 608.4,128.43 608.9,130.14 609.4,131.74 609.9,133.23 610.4,134.6 610.9,135.87 611.4,137.04 611.9,138.11 612.4,139.09 612.9,139.98 613.4,140.8 613.9,141.54 614.4,142.21 614.9,142.81 615.4,143.36 615.9,143.86 616.4,144.3 616.9,144.7 617.4,145.06 617.9,145.39 618.4,145.68 618.9,145.95 619.4,146.18 619.9,146.4 620.4,146.59 620.9,146.77 621.4,146.93 621.9,147.08 622.4,147.22 622.9,147.34 623.4,147.45 623.9,147.56 624.4,147.66 624.9,147.75 625.4,147.84 625.9,147.92 626.4,147.99 626.9,148.06 627.4,148.13 627.9,148.19 628.4,148.26 628.9,148.31 629.4,148.37 629.9,148.42 630.4,148.47 630.9,148.52 631.4,148.57 631.9,148.61 632.4,148.66 632.9,148.7 633.4,148.74 633.9,148.78 634.4,148.82 634.9,148.85 635.4,148.89 635.9,148.92 636.4,148.96 636.9,148.99 637.4,149.02 637.9,149.05 638.4,149.08 638.9,149.11 639.4,149.14 639.9,149.16 640.4,149.19 640.9,149.21 641.4,149.24 641.9,149.26 642.4,149.28 642.9,149.31 643.4,149.33 643.9,149.35 644.4,149.37 644.9,149.39 645.4,149.41 645.9,149.43 646.4,149.45 646.9,149.47 647.4,149.48 647.9,149.5 648.4,149.52 648.9,149.53 649.4,149.55 649.9,149.56 650.4,149.58 650.9,149.59 651.4,149.61 651.9,149.62 652.4,149.64 652.9,149.65 653.4,149.66 653.9,149.68 654.4,149.69 654.9,149.7 655.4,149.71 655.9,149.72 656.4,149.74 656.9,149.75 657.4,149.76 657.9,149.77 658.4,149.78 658.9,149.79 659.4,149.8 659.9,149.81 660.4,149.82 660.9,149.83 661.4,149.84 661.9,149.85 662.4,149.86 662.9,149.86 663.4,149.87 663.9,149.88 664.4,149.89 664.9,149.9 665.4,149.9 665.9,149.91 666.4,149.92 666.9,149.93 667.4,149.93 667.9,149.94 668.4,149.95 668.9,149.96 669.4,149.96 669.9,149.97 670.4,149.98 670.9,149.98 671.4,149.99 671.9,149.99 672.4,150 672.9,150.01 673.4,150.01 673.9,150.02 674.4,150.02 674.9,150.03 675.4,150.03 675.9,150.04 676.4,150.04 676.9,150.05 677.4,150.05 677.9,150.06 678.4,150.06 678.9,150.07 679.4,150.07 679.9,150.08 680.4,150.08 680.9,150.09 681.4,150.09 681.9,150.1 682.4,150.1 682.9,150.1 683.4,150.11 683.9,150.11 684.4,150.12" fill="none" stroke="#1c1c1c" stroke-width="0.9"/>
<polygon points="473.4,150.5 473.4,150.37 473.9,150.37 474.4,150.37 474.9,150.37 475.4,150.37 475.9,150.37 476.4,150.36 476.9,150.36 477.4,150.36 477.9,150.36 478.4,150.36 478.9,150.35 479.4,150.35 479.9,150.35 480.4,150.35 480.9,150.35 481.4,150.34 481.9,150.34 482.4,150.34 482.9,150.34 483.4,150.33 483.9,150.33 484.4,150.33 484.9,150.33 485.4,150.32 485.9,150.32 486.4,150.32 486.9,150.32 487.4,150.31 487.9,150.31 488.4,150.31 488.9,150.3 489.4,150.3 489.9,150.3 490.4,150.29 490.9,150.29 491.4,150.29 491.9,150.28 492.4,150.28 492.9,150.27 493.4,150.27 493.9,150.27 494.4,150.26 494.9,150.26 495.4,150.25 495.9,150.25 496.4,150.24 496.9,150.24 497.4,150.23 497.9,150.23 498.4,150.22 498.9,150.22 499.4,150.21 499.9,150.2 500.4,150.2 500.9,150.19 501.4,150.19 501.9,150.18 502.4,150.17 502.9,150.16 503.4,150.16 503.9,150.15 504.4,150.14 504.9,150.13 505.4,150.12 505.9,150.11 506.4,150.1 506.9,150.09 507.4,150.08 507.9,150.07 508.4,150.05 508.9,150.04 509.4,150.03 509.9,150.01 510.4,149.99 510.9,149.97 511.4,149.95 511.9,149.93 512.4,149.9 512.9,149.87 513.4,149.84 513.9,149.8 514.4,149.76 514.9,149.72 515.4,149.67 515.9,149.61 516.4,149.55 516.9,149.48 517.4,149.4 517.9,149.31 518.4,149.21 518.9,149.1 519.4,148.97 519.9,148.84 520.4,148.69 520.9,148.52 521.4,148.34 521.9,148.13 522.4,147.91 522.9,147.67 523.4,147.41 523.9,147.13 524.4,146.83 524.9,146.5 525.4,146.15 525.9,145.78 526.4,145.39 526.9,144.98 527.4,144.54 527.9,144.09 528.4,143.61 528.9,143.13 529.4,142.62 529.9,142.11 530.4,141.59 530.9,141.06 531.4,140.53 531.9,139.99 532.4,139.47 532.9,138.95 533.4,138.45 533.9,137.96 534.4,137.5 534.9,137.06 535.4,136.66 535.9,136.29 536.4,135.95 536.9,135.67 537.4,135.42 537.9,135.23 538.4,135.08 538.9,134.99 539.4,134.94 539.9,134.94 540.4,134.98 540.9,135.06 541.4,135.17 541.9,135.31 542.4,135.47 542.9,135.65 543.4,135.84 543.9,136.02 544.4,136.21 544.9,136.38 545.4,136.52 545.9,136.65 546.4,136.74 546.9,136.79 547.4,136.8 547.9,136.77 548.4,136.68 548.9,136.53 549.4,136.33 549.9,136.07 550.4,135.75 550.9,135.37 551.4,134.93 551.9,134.44 552.4,133.88 552.9,133.28 553.4,132.63 553.9,131.93 554.4,131.2 554.9,130.44 555.4,129.66 555.9,128.87 556.4,128.07 556.9,127.28 557.4,126.5 557.9,125.75 558.4,125.03 558.9,124.36 559.4,123.75 559.9,123.21 560.4,122.75 560.9,122.37 561.4,122.09 561.9,121.91 562.4,121.83 562.9,121.87 563.4,122.01 563.9,122.26 564.4,122.61 564.9,123.07 565.4,123.62 565.9,124.26 566.4,124.97 566.9,125.75 567.4,126.6 567.9,127.49 568.4,128.43 568.9,129.4 569.4,130.39 569.9,131.4 570.4,132.41 570.9,133.42 571.4,134.43 571.9,135.42 572.4,136.39 572.9,137.33 573.4,138.25 573.9,139.13 574.4,139.98 574.9,140.78 575.4,141.55 575.9,142.28 576.4,142.96 576.9,143.6 577.4,144.19 577.9,144.75 578.4,145.26 578.9,145.73 579.4,146.16 579.9,146.56 580.4,146.92 580.9,147.25 581.4,147.55 581.9,147.81 582.4,148.06 582.9,148.27 583.4,148.47 583.9,148.64 584.4,148.79 584.9,148.93 585.4,149.05 585.9,149.16 586.4,149.26 586.9,149.34 587.4,149.42 587.9,149.49 588.4,149.55 588.9,149.6 589.4,149.65 589.9,149.69 590.4,149.73 590.9,149.76 591.4,149.79 591.9,149.82 592.4,149.85 592.9,149.87 593.4,149.89 593.9,149.91 594.4,149.93 594.9,149.95 595.4,149.96 595.9,149.98 596.4,149.99 596.9,150.01 597.4,150.02 597.9,150.03 598.4,150.04 598.9,150.06 599.4,150.07 599.9,150.08 600.4,150.09 600.9,150.1 601.4,150.11 601.9,150.12 602.4,150.12 602.9,150.13 603.4,150.14 603.9,150.15 604.4,150.16 604.9,150.16 605.4,150.17 605.9,150.18 606.4,150.18 606.9,150.19 607.4,150.2 607.9,150.2 608.4,150.21 608.9,150.21 609.4,150.22 609.9,150.22 610.4,150.23 610.9,150.23 611.4,150.24 611.9,150.24 612.4,150.25 612.9,150.25 613.4,150.26 613.9,150.26 614.4,150.27 614.9,150.27 615.4,150.27 615.9,150.28 616.4,150.28 616.9,150.29 617.4,150.29 617.9,150.29 618.4,150.3 618.9,150.3 619.4,150.3 619.9,150.31 620.4,150.31 620.9,150.31 621.4,150.31 621.9,150.32 622.4,150.32 622.9,150.32 623.4,150.33 623.9,150.33 624.4,150.33 624.9,150.33 625.4,150.34 625.9,150.34 626.4,150.34 626.9,150.34 627.4,150.34 627.9,150.35 628.4,150.35 628.9,150.35 629.4,150.35 629.9,150.36 630.4,150.36 630.9,150.36 631.4,150.36 631.9,150.36 632.4,150.36 632.9,150.37 633.4,150.37 633.9,150.37 634.4,150.37 634.9,150.37 635.4,150.37 635.9,150.38 636.4,150.38 636.9,150.38 637.4,150.38 637.9,150.38 638.4,150.38 638.9,150.39 639.4,150.39 639.9,150.39 640.4,150.39 640.9,150.39 641.4,150.39 641.9,150.39 642.4,150.39 642.9,150.4 643.4,150.4 643.9,150.4 644.4,150.4 644.9,150.4 645.4,150.4 645.9,150.4 646.4,150.4 646.9,150.4 647.4,150.41 647.9,150.41 648.4,150.41 648.9,150.41 649.4,150.41 649.9,150.41 650.4,150.41 650.9,150.41 651.4,150.41 651.9,150.41 652.4,150.42 652.9,150.42 653.4,150.42 653.9,150.42 654.4,150.42 654.9,150.42 655.4,150.42 655.9,150.42 656.4,150.42 656.9,150.42 657.4,150.42 657.9,150.42 658.4,150.43 658.9,150.43 659.4,150.43 659.9,150.43 660.4,150.43 660.9,150.43 661.4,150.43 661.9,150.43 662.4,150.43 662.9,150.43 663.4,150.43 663.9,150.43 664.4,150.43 664.9,150.43 665.4,150.43 665.9,150.44 666.4,150.44 666.9,150.44 667.4,150.44 667.9,150.44 668.4,150.44 668.9,150.44 669.4,150.44 669.9,150.44 670.4,150.44 670.9,150.44 671.4,150.44 671.9,150.44 672.4,150.44 672.9,150.44 673.4,150.44 673.9,150.44 674.4,150.44 674.9,150.44 675.4,150.45 675.9,150.45 676.4,150.45 676.9,150.45 677.4,150.45 677.9,150.45 678.4,150.45 678.9,150.45 679.4,150.45 679.9,150.45 680.4,150.45 680.9,150.45 681.4,150.45 681.9,150.45 682.4,150.45 682.9,150.45 683.4,150.45 683.9,150.45 684.4,150.45 684.4,150.5" fill="#404040" stroke="none"/>
<polyline points="473.4,150.37 473.9,150.37 474.4,150.37 474.9,150.37 475.4,150.37 475.9,150.37 476.4,150.36 476.9,150.36 477.4,150.36 477.9,150.36 478.4,150.36 478.9,150.35 479.4,150.35 479.9,150.35 480.4,150.35 480.9,150.35 481.4,150.34 481.9,150.34 482.4,150.34 482.9,150.34 483.4,150.33 483.9,150.33 484.4,150.33 484.9,150.33 485.4,150.32 485.9,150.32 486.4,150.32 486.9,150.32 487.4,150.31 487.9,150.31 488.4,150.31 488.9,150.3 489.4,150.3 489.9,150.3 490.4,150.29 490.9,150.29 491.4,150.29 491.9,150.28 492.4,150.28 492.9,150.27 493.4,150.27 493.9,150.27 494.4,150.26 494.9,150.26 495.4,150.25 495.9,150.25 496.4,150.24 496.9,150.24 497.4,150.23 497.9,150.23 498.4,150.22 498.9,150.22 499.4,150.21 499.9,150.2 500.4,150.2 500.9,150.19 501.4,150.19 501.9,150.18 502.4,150.17 502.9,150.16 503.4,150.16 503.9,150.15 504.4,150.14 504.9,150.13 505.4,150.12 505.9,150.11 506.4,150.1 506.9,150.09 507.4,150.08 507.9,150.07 508.4,150.05 508.9,150.04 509.4,150.03 509.9,150.01 510.4,149.99 510.9,149.97 511.4,149.95 511.9,149.93 512.4,149.9 512.9,149.87 513.4,149.84 513.9,149.8 514.4,149.76 514.9,149.72 515.4,149.67 515.9,149.61 516.4,149.55 516.9,149.48 517.4,149.4 517.9,149.31 518.4,149.21 518.9,149.1 519.4,148.97 519.9,148.84 520.4,148.69 520.9,148.52 521.4,148.34 521.9,148.13 522.4,147.91 522.9,147.67 523.4,147.41 523.9,147.13 524.4,146.83 524.9,146.5 525.4,146.15 525.9,145.78 526.4,145.39 526.9,144.98 527.4,144.54 527.9,144.09 528.4,143.61 528.9,143.13 529.4,142.62 529.9,142.11 530.4,141.59 530.9,141.06 531.4,140.53 531.9,139.99 532.4,139.47 532.9,138.95 533.4,138.45 533.9,137.96 534.4,137.5 534.9,137.06 535.4,136.66 535.9,136.29 536.4,135.95 536.9,135.67 537.4,135.42 537.9,135.23 538.4,135.08 538.9,134.99 539.4,134.94 539.9,134.94 540.4,134.98 540.9,135.06 541.4,135.17 541.9,135.31 542.4,135.47 542.9,135.65 543.4,135.84 543.9,136.02 544.4,136.21 544.9,136.38 545.4,136.52 545.9,136.65 546.4,136.74 546.9,136.79 547.4,136.8 547.9,136.77 548.4,136.68 548.9,136.53 549.4,136.33 549.9,136.07 550.4,135.75 550.9,135.37 551.4,134.93 551.9,134.44 552.4,133.88 552.9,133.28 553.4,132.63 553.9,131.93 554.4,131.2 554.9,130.44 555.4,129.66 555.9,128.87 556.4,128.07 556.9,127.28 557.4,126.5 557.9,125.75 558.4,125.03 558.9,124.36 559.4,123.75 559.9,123.21 560.4,122.75 560.9,122.37 561.4,122.09 561.9,121.91 562.4,121.83 562.9,121.87 563.4,122.01 563.9,122.26 564.4,122.61 564.9,123.07 565.4,123.62 565.9,124.26 566.4,124.97 566.9,125.75 567.4,126.6 567.9,127.49 568.4,128.43 568.9,129.4 569.4,130.39 569.9,131.4 570.4,132.41 570.9,133.42 571.4,134.43 571.9,135.42 572.4,136.39 572.9,137.33 573.4,138.25 573.9,139.13 574.4,139.98 574.9,140.78 575.4,141.55 575.9,142.28 576.4,142.96 576.9,143.6 577.4,144.19 577.9,144.75 578.4,145.26 578.9,145.73 579.4,146.16 579.9,146.56 580.4,146.92 580.9,147.25 581.4,147.55 581.9,147.81 582.4,148.06 582.9,148.27 583.4,148.47 583.9,148.64 584.4,148.79 584.9,148.93 585.4,149.05 585.9,149.16 586.4,149.26 586.9,149.34 587.4,149.42 587.9,149.49 588.4,149.55 588.9,149.6 589.4,149.65 589.9,149.69 590.4,149.73 590.9,149.76 591.4,149.79 591.9,149.82 592.4,149.85 592.9,149.87 593.4,149.89 593.9,149.91 594.4,149.93 594.9,149.95 595.4,149.96 595.9,149.98 596.4,149.99 596.9,150.01 597.4,150.02 597.9,150.03 598.4,150.04 598.9,150.06 599.4,150.07 599.9,150.08 600.4,150.09 600.9,150.1 601.4,150.11 601.9,150.12 602.4,150.12 602.9,150.13 603.4,150.14 603.9,150.15 604.4,150.16 604.9,150.16 605.4,150.17 605.9,150.18 606.4,150.18 606.9,150.19 607.4,150.2 607.9,150.2 608.4,150.21 608.9,150.21 609.4,150.22 609.9,150.22 610.4,150.23 610.9,150.23 611.4,150.24 611.9,150.24 612.4,150.25 612.9,150.25 613.4,150.26 613.9,150.26 614.4,150.27 614.9,150.27 615.4,150.27 615.9,150.28 616.4,150.28 616.9,150.29 617.4,150.29 617.9,150.29 618.4,150.3 618.9,150.3 619.4,150.3 619.9,150.31 620.4,150.31 620.9,150.31 621.4,150.31 621.9,150.32 622.4,150.32 622.9,150.32 623.4,150.33 623.9,150.33 624.4,150.33 624.9,150.33 625.4,150.34 625.9,150.34 626.4,150.34 626.9,150.34 627.4,150.34 627.9,150.35 628.4,150.35 628.9,150.35 629.4,150.35 629.9,150.36 630.4,150.36 630.9,150.36 631.4,150.36 631.9,150.36 632.4,150.36 632.9,150.37 633.4,150.37 633.9,150.37 634.4,150.37 634.9,150.37 635.4,150.37 635.9,150.38 636.4,150.38 636.9,150.38 637.4,150.38 637.9,150.38 638.4,150.38 638.9,150.39 639.4,150.39 639.9,150.39 640.4,150.39 640.9,150.39 641.4,150.39 641.9,150.39 642.4,150.39 642.9,150.4 643.4,150.4 643.9,150.4 644.4,150.4 644.9,150.4 645.4,150.4 645.9,150.4 646.4,150.4 646.9,150.4 647.4,150.41 647.9,150.41 648.4,150.41 648.9,150.41 649.4,150.41 649.9,150.41 650.4,150.41 650.9,150.41 651.4,150.41 651.9,150.41 652.4,150.42 652.9,150.42 653.4,150.42 653.9,150.42 654.4,150.42 654.9,150.42 655.4,150.42 655.9,150.42 656.4,150.42 656.9,150.42 657.4,150.42 657.9,150.42 658.4,150.43 658.9,150.43 659.4,150.43 659.9,150.43 660.4,150.43 660.9,150.43 661.4,150.43 661.9,150.43 662.4,150.43 662.9,150.43 663.4,150.43 663.9,150.43 664.4,150.43 664.9,150.43 665.4,150.43 665.9,150.44 666.4,150.44 666.9,150.44 667.4,150.44 667.9,150.44 668.4,150.44 668.9,150.44 669.4,150.44 669.9,150.44 670.4,150.44 670.9,150.44 671.4,150.44 671.9,150.44 672.4,150.44 672.9,150.44 673.4,150.44 673.9,150.44 674.4,150.44 674.9,150.44 675.4,150.45 675.9,150.45 676.4,150.45 676.9,150.45 677.4,150.45 677.9,150.45 678.4,150.45 678.9,150.45 679.4,150.45 679.9,150.45 680.4,150.45 680.9,150.45 681.4,150.45 681.9,150.45 682.4,150.45 682.9,150.45 683.4,150.45 683.9,150.45 684.4,150.45" fill="none" stroke="#333" stroke-width="0.6"/>
<line x1="473.4" y1="150.5" x2="684" y2="150.5" stroke="#1a1a1a" stroke-width="0.9"/>
<polyline points="473.4,129.49 475.59,130.06 477.79,129.37 479.98,129.8 482.18,129.25 484.37,129.31 486.56,129.82 488.76,129.08 490.95,129.31 493.15,129.03 495.34,128.87 497.53,128.76 499.73,128.36 501.92,128.72 504.12,127.99 506.31,127.98 508.5,127.69 510.7,127.75 512.89,127.52 515.09,127.06 517.28,126.29 519.47,126.15 521.67,125.58 523.86,124.9 526.06,122.41 528.25,120.68 530.44,117.99 532.64,115.68 534.83,113.17 537.03,111.87 539.22,111.09 541.41,111.49 543.61,112.44 545.8,112.74 548,112.02 550.19,110.04 552.38,106.85 554.58,100.5 556.77,92.44 558.97,84.07 561.16,74.85 563.35,67.51 565.55,62.86 567.74,61.07 569.94,63.43 572.13,69.09 574.32,75.05 576.52,81.41 578.71,84.33 580.91,84.8 583.1,80.99 585.29,73.98 587.49,64.52 589.68,54.7 591.88,47.28 594.07,44.97 596.26,49.08 598.46,58.09 600.65,69.81 602.85,83.38 605.04,95.12 607.23,105.5 609.43,113.09 611.62,118.93 613.82,122.73 616.01,125.61 618.2,127.23 620.4,128.11 622.59,127.43 624.79,129.69 626.98,130.45 629.17,130.2 631.37,130.65 633.56,130.7 635.76,131.3 637.95,131.74 640.14,131.28 642.34,131.88 644.53,131.65 646.73,131.54 648.92,132.26 651.11,132.03 653.31,131.99 655.5,132.3 657.7,132.23 659.89,132.46 662.08,132.57 664.28,132.62 666.47,132.83 668.67,132.66 670.86,132.57 673.05,132.63 675.25,132.71 677.44,133.1 679.64,133.04 681.83,133.45 684.02,133.27" fill="none" stroke="#111" stroke-width="0.7"/>
<g fill="#0a0a0a"><circle cx="473.4" cy="129.49" r="1.62"/><circle cx="475.59" cy="130.06" r="1.62"/><circle cx="477.79" cy="129.37" r="1.62"/><circle cx="479.98" cy="129.8" r="1.62"/><circle cx="482.18" cy="129.25" r="1.62"/><circle cx="484.37" cy="129.31" r="1.62"/><circle cx="486.56" cy="129.82" r="1.62"/><circle cx="488.76" cy="129.08" r="1.62"/><circle cx="490.95" cy="129.31" r="1.62"/><circle cx="493.15" cy="129.03" r="1.62"/><circle cx="495.34" cy="128.87" r="1.62"/><circle cx="497.53" cy="128.76" r="1.62"/><circle cx="499.73" cy="128.36" r="1.62"/><circle cx="501.92" cy="128.72" r="1.62"/><circle cx="504.12" cy="127.99" r="1.62"/><circle cx="506.31" cy="127.98" r="1.62"/><circle cx="508.5" cy="127.69" r="1.62"/><circle cx="510.7" cy="127.75" r="1.62"/><circle cx="512.89" cy="127.52" r="1.62"/><circle cx="515.09" cy="127.06" r="1.62"/><circle cx="517.28" cy="126.29" r="1.62"/><circle cx="519.47" cy="126.15" r="1.62"/><circle cx="521.67" cy="125.58" r="1.62"/><circle cx="523.86" cy="124.9" r="1.62"/><circle cx="526.06" cy="122.41" r="1.62"/><circle cx="528.25" cy="120.68" r="1.62"/><circle cx="530.44" cy="117.99" r="1.62"/><circle cx="532.64" cy="115.68" r="1.62"/><circle cx="534.83" cy="113.17" r="1.62"/><circle cx="537.03" cy="111.87" r="1.62"/><circle cx="539.22" cy="111.09" r="1.62"/><circle cx="541.41" cy="111.49" r="1.62"/><circle cx="543.61" cy="112.44" r="1.62"/><circle cx="545.8" cy="112.74" r="1.62"/><circle cx="548" cy="112.02" r="1.62"/><circle cx="550.19" cy="110.04" r="1.62"/><circle cx="552.38" cy="106.85" r="1.62"/><circle cx="554.58" cy="100.5" r="1.62"/><circle cx="556.77" cy="92.44" r="1.62"/><circle cx="558.97" cy="84.07" r="1.62"/><circle cx="561.16" cy="74.85" r="1.62"/><circle cx="563.35" cy="67.51" r="1.62"/><circle cx="565.55" cy="62.86" r="1.62"/><circle cx="567.74" cy="61.07" r="1.62"/><circle cx="569.94" cy="63.43" r="1.62"/><circle cx="572.13" cy="69.09" r="1.62"/><circle cx="574.32" cy="75.05" r="1.62"/><circle cx="576.52" cy="81.41" r="1.62"/><circle cx="578.71" cy="84.33" r="1.62"/><circle cx="580.91" cy="84.8" r="1.62"/><circle cx="583.1" cy="80.99" r="1.62"/><circle cx="585.29" cy="73.98" r="1.62"/><circle cx="587.49" cy="64.52" r="1.62"/><circle cx="589.68" cy="54.7" r="1.62"/><circle cx="591.88" cy="47.28" r="1.62"/><circle cx="594.07" cy="44.97" r="1.62"/><circle cx="596.26" cy="49.08" r="1.62"/><circle cx="598.46" cy="58.09" r="1.62"/><circle cx="600.65" cy="69.81" r="1.62"/><circle cx="602.85" cy="83.38" r="1.62"/><circle cx="605.04" cy="95.12" r="1.62"/><circle cx="607.23" cy="105.5" r="1.62"/><circle cx="609.43" cy="113.09" r="1.62"/><circle cx="611.62" cy="118.93" r="1.62"/><circle cx="613.82" cy="122.73" r="1.62"/><circle cx="616.01" cy="125.61" r="1.62"/><circle cx="618.2" cy="127.23" r="1.62"/><circle cx="620.4" cy="128.11" r="1.62"/><circle cx="622.59" cy="127.43" r="1.62"/><circle cx="624.79" cy="129.69" r="1.62"/><circle cx="626.98" cy="130.45" r="1.62"/><circle cx="629.17" cy="130.2" r="1.62"/><circle cx="631.37" cy="130.65" r="1.62"/><circle cx="633.56" cy="130.7" r="1.62"/><circle cx="635.76" cy="131.3" r="1.62"/><circle cx="637.95" cy="131.74" r="1.62"/><circle cx="640.14" cy="131.28" r="1.62"/><circle cx="642.34" cy="131.88" r="1.62"/><circle cx="644.53" cy="131.65" r="1.62"/><circle cx="646.73" cy="131.54" r="1.62"/><circle cx="648.92" cy="132.26" r="1.62"/><circle cx="651.11" cy="132.03" r="1.62"/><circle cx="653.31" cy="131.99" r="1.62"/><circle cx="655.5" cy="132.3" r="1.62"/><circle cx="657.7" cy="132.23" r="1.62"/><circle cx="659.89" cy="132.46" r="1.62"/><circle cx="662.08" cy="132.57" r="1.62"/><circle cx="664.28" cy="132.62" r="1.62"/><circle cx="666.47" cy="132.83" r="1.62"/><circle cx="668.67" cy="132.66" r="1.62"/><circle cx="670.86" cy="132.57" r="1.62"/><circle cx="673.05" cy="132.63" r="1.62"/><circle cx="675.25" cy="132.71" r="1.62"/><circle cx="677.44" cy="133.1" r="1.62"/><circle cx="679.64" cy="133.04" r="1.62"/><circle cx="681.83" cy="133.45" r="1.62"/><circle cx="684.02" cy="133.27" r="1.62"/></g>
</g>
<line x1="472.9" y1="0.4" x2="684.5" y2="0.4" stroke="#464646" stroke-width="1"/>
<line x1="684" y1="0.4" x2="684" y2="173.9" stroke="#858585" stroke-width="1.3"/>
<line x1="473.4" y1="0.4" x2="473.4" y2="175.2" stroke="#333" stroke-width="1.1"/>
<line x1="472.9" y1="173.9" x2="684.6" y2="173.9" stroke="#484848" stroke-width="1.25"/>
<path d="M473.4 173.9v1.8M484.37 173.9v1.8M495.34 173.9v3.2M506.31 173.9v1.8M517.28 173.9v1.8M528.25 173.9v1.8M539.22 173.9v3.2M550.19 173.9v1.8M561.16 173.9v1.8M572.13 173.9v1.8M583.1 173.9v3.2M594.07 173.9v1.8M605.04 173.9v1.8M616.01 173.9v1.8M626.98 173.9v3.2M637.95 173.9v1.8M648.92 173.9v1.8M659.89 173.9v1.8M670.86 173.9v3.2M681.83 173.9v1.8" stroke="#222" stroke-width="0.8" fill="none"/>
<text x="495.34" y="190.3" text-anchor="middle" font-size="15.2" font-weight="bold">166</text>
<text x="539.22" y="190.3" text-anchor="middle" font-size="15.2" font-weight="bold">164</text>
<text x="583.1" y="190.3" text-anchor="middle" font-size="15.2" font-weight="bold">162</text>
<text x="626.98" y="190.3" text-anchor="middle" font-size="15.2" font-weight="bold">160</text>
<text x="670.86" y="190.3" text-anchor="middle" font-size="15.2" font-weight="bold">158</text>
<text x="475.5" y="25.05" font-size="19.3" font-weight="bold">S 2<tspan font-style="italic">p</tspan></text>
<text x="679" y="26" font-size="23" font-weight="bold" text-anchor="end">(c)</text>
</g>
<path d="M41.3 67.8 L51.09 73.45 L51.09 84.75 L41.3 90.4 L31.51 84.75 L31.51 73.45ZM41.93 70.42L48.5 74.22M48.5 83.98L41.93 87.78M33.47 82.9L33.47 75.3" fill="none" stroke="#2e2e2e" stroke-width="0.8"/>
<path d="M51.09 73.45L58 69.7M63.2 70.2L68.6 72.6M73.8 72.2L80.01 68.35" fill="none" stroke="#2e2e2e" stroke-width="0.8"/>
<path d="M89.8 51.4 L99.59 57.05 L99.59 68.35 L89.8 74 L80.01 68.35 L80.01 57.05ZM82.6 57.82L89.17 54.02M97.63 58.9L97.63 66.5M89.17 71.38L82.6 67.58" fill="none" stroke="#2e2e2e" stroke-width="0.8"/>
<text x="60.8" y="71" font-size="7.6" text-anchor="middle" style="font-family:'Liberation Sans', sans-serif;fill:#222;stroke:none">S</text>
<text x="71.1" y="76.3" font-size="7.6" text-anchor="middle" style="font-family:'Liberation Sans', sans-serif;fill:#222;stroke:none">S</text>
<path d="M190.6 77.5 L202.03 84.1 L202.03 97.3 L190.6 103.9 L179.17 97.3 L179.17 84.1ZM182.19 85L189.87 80.56M199.75 86.26L199.75 95.14M189.87 100.84L182.19 96.4" fill="none" stroke="#2e2e2e" stroke-width="0.8"/>
<path d="M202.03 84.1L208.6 80.1" fill="none" stroke="#2e2e2e" stroke-width="0.8"/>
<text x="209.8" y="81.4" font-size="9.4" style="font-family:'Liberation Sans', sans-serif;fill:#222;stroke:none">SH</text>
<text x="175.2" y="66.7" font-size="19" font-weight="bold">S1</text>
<text x="60.9" y="106.2" font-size="19" font-weight="bold">S2</text>
<line x1="155.9" y1="95.8" x2="178.97" y2="73.07" stroke="#f00" stroke-width="1.25"/>
<polygon points="183.1,69 179.8,75.34 176.71,72.21" fill="#f00"/>
<line x1="103.2" y1="144.8" x2="78.14" y2="117.75" stroke="#f00" stroke-width="1.25"/>
<polygon points="74.2,113.5 80.44,116.99 77.21,119.98" fill="#f00"/>
<text transform="translate(16.2,161.0) rotate(-90)" font-size="22.9" font-weight="bold">Intensity (a. u.)</text>
<text x="262.2" y="223.3" font-size="22.4" font-weight="bold">Binding Energy (eV)</text>
<defs><linearGradient id="rg" x1="0" y1="0" x2="0" y2="1"><stop offset="0" stop-color="#f00000"/><stop offset="0.22" stop-color="#f80000"/><stop offset="0.5" stop-color="#b00000"/><stop offset="0.78" stop-color="#580000"/><stop offset="1" stop-color="#160000"/></linearGradient></defs>
<rect x="283" y="400.2" width="17.6" height="23.65" fill="url(#rg)" stroke="#7a0000" stroke-width="0.5"/>
<rect x="353.3" y="347.2" width="17.6" height="76.65" fill="url(#rg)" stroke="#7a0000" stroke-width="0.5"/>
<rect x="423.4" y="292.2" width="17.6" height="131.65" fill="url(#rg)" stroke="#7a0000" stroke-width="0.5"/>
<text x="291.8" y="393.6" font-size="14.9" font-weight="bold" text-anchor="middle">0.062</text>
<path d="M291.8 398.46V401.94M287.8 398.46h8M287.8 401.94h8" stroke="#0000f5" stroke-width="1.7" fill="none"/>
<text x="290.1" y="445.4" font-size="15" font-weight="bold" text-anchor="middle">Graphene</text>
<text x="362.1" y="340.6" font-size="14.9" font-weight="bold" text-anchor="middle">0.199</text>
<path d="M362.1 341.91V352.49M358.5 341.91h7.2M358.5 352.49h7.2" stroke="#0000f5" stroke-width="1.7" fill="none"/>
<text x="366.9" y="445.3" font-size="15" font-weight="bold" text-anchor="middle">m-HGORs</text>
<text x="432.2" y="285.6" font-size="14.9" font-weight="bold" text-anchor="middle">0.342</text>
<path d="M432.2 283.24V301.16M428.9 283.24h6.6M428.9 301.16h6.6" stroke="#0000f5" stroke-width="1.7" fill="none"/>
<text x="436.4" y="443.4" font-size="15" font-weight="bold" text-anchor="middle">HGORs</text>
<line x1="255.05" y1="250.5" x2="467.8" y2="250.5" stroke="#3a3a3a" stroke-width="1"/>
<line x1="467.4" y1="250.5" x2="467.4" y2="424.45" stroke="#5a5a5a" stroke-width="0.9"/>
<line x1="256.55" y1="250.5" x2="256.55" y2="424.45" stroke="#444" stroke-width="0.9"/>
<line x1="253.95" y1="423.85" x2="467.8" y2="423.85" stroke="#5e5e5e" stroke-width="1.4"/>
<path d="M256.55 423.85h-3M256.55 404.54h-1.6M256.55 385.23h-3M256.55 365.92h-1.6M256.55 346.61h-3M256.55 327.3h-1.6M256.55 307.99h-3M256.55 288.68h-1.6M256.55 269.37h-3" stroke="#222" stroke-width="0.8" fill="none"/>
<text x="252.1" y="428.05" font-size="15.4" font-weight="bold" text-anchor="end">0.0</text>
<text x="252.1" y="389.43" font-size="15.4" font-weight="bold" text-anchor="end">0.1</text>
<text x="252.1" y="350.81" font-size="15.4" font-weight="bold" text-anchor="end">0.2</text>
<text x="252.1" y="312.19" font-size="15.4" font-weight="bold" text-anchor="end">0.3</text>
<text x="252.1" y="273.57" font-size="15.4" font-weight="bold" text-anchor="end">0.4</text>
<text x="263.6" y="278.6" font-size="23" font-weight="bold">(d)</text>
<text transform="translate(216.4,409.6) rotate(-90)" font-size="23.3" font-weight="bold">Ratio (S2/S1)</text>
</svg></body></html>
